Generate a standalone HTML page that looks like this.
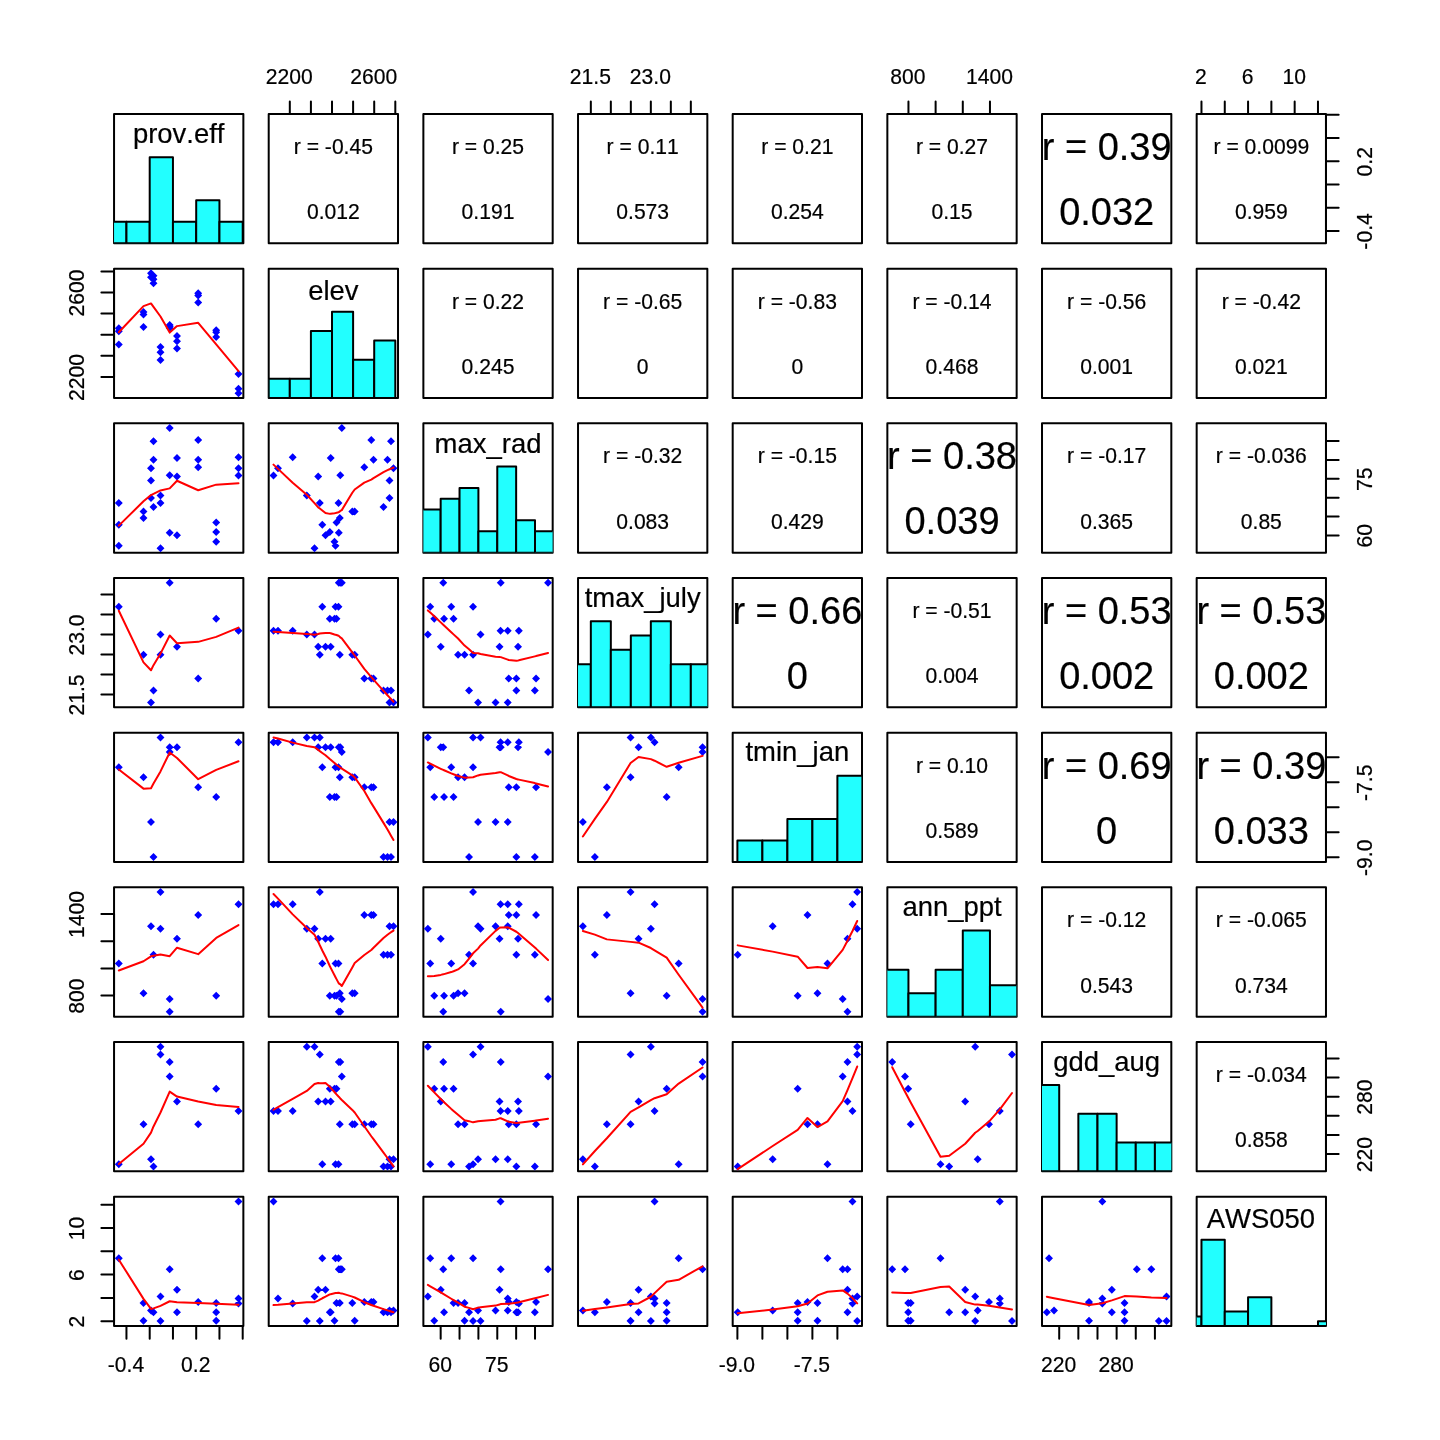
<!DOCTYPE html>
<html lang="en">
<head>
<meta charset="utf-8">
<title>Scatterplot matrix</title>
<style>html,body{margin:0;padding:0;background:#fff}svg{display:block}</style>
</head>
<body>
<svg width="1440" height="1440" viewBox="0 0 1440 1440" font-family="'Liberation Sans', sans-serif" fill="#000" style="font-kerning:none">
<style>text{stroke:#000;stroke-width:0.2px}</style>
<rect x="0" y="0" width="1440" height="1440" fill="#fff"/>
<defs>
<clipPath id="c0_0"><rect x="114.05" y="114.05" width="129.31" height="129.31"/></clipPath>
<clipPath id="c1_0"><rect x="114.05" y="268.71" width="129.31" height="129.31"/></clipPath>
<clipPath id="c1_1"><rect x="268.71" y="268.71" width="129.31" height="129.31"/></clipPath>
<clipPath id="c2_0"><rect x="114.05" y="423.37" width="129.31" height="129.31"/></clipPath>
<clipPath id="c2_1"><rect x="268.71" y="423.37" width="129.31" height="129.31"/></clipPath>
<clipPath id="c2_2"><rect x="423.37" y="423.37" width="129.31" height="129.31"/></clipPath>
<clipPath id="c3_0"><rect x="114.05" y="578.03" width="129.31" height="129.31"/></clipPath>
<clipPath id="c3_1"><rect x="268.71" y="578.03" width="129.31" height="129.31"/></clipPath>
<clipPath id="c3_2"><rect x="423.37" y="578.03" width="129.31" height="129.31"/></clipPath>
<clipPath id="c3_3"><rect x="578.03" y="578.03" width="129.31" height="129.31"/></clipPath>
<clipPath id="c4_0"><rect x="114.05" y="732.69" width="129.31" height="129.31"/></clipPath>
<clipPath id="c4_1"><rect x="268.71" y="732.69" width="129.31" height="129.31"/></clipPath>
<clipPath id="c4_2"><rect x="423.37" y="732.69" width="129.31" height="129.31"/></clipPath>
<clipPath id="c4_3"><rect x="578.03" y="732.69" width="129.31" height="129.31"/></clipPath>
<clipPath id="c4_4"><rect x="732.69" y="732.69" width="129.31" height="129.31"/></clipPath>
<clipPath id="c5_0"><rect x="114.05" y="887.35" width="129.31" height="129.31"/></clipPath>
<clipPath id="c5_1"><rect x="268.71" y="887.35" width="129.31" height="129.31"/></clipPath>
<clipPath id="c5_2"><rect x="423.37" y="887.35" width="129.31" height="129.31"/></clipPath>
<clipPath id="c5_3"><rect x="578.03" y="887.35" width="129.31" height="129.31"/></clipPath>
<clipPath id="c5_4"><rect x="732.69" y="887.35" width="129.31" height="129.31"/></clipPath>
<clipPath id="c5_5"><rect x="887.35" y="887.35" width="129.31" height="129.31"/></clipPath>
<clipPath id="c6_0"><rect x="114.05" y="1042.01" width="129.31" height="129.31"/></clipPath>
<clipPath id="c6_1"><rect x="268.71" y="1042.01" width="129.31" height="129.31"/></clipPath>
<clipPath id="c6_2"><rect x="423.37" y="1042.01" width="129.31" height="129.31"/></clipPath>
<clipPath id="c6_3"><rect x="578.03" y="1042.01" width="129.31" height="129.31"/></clipPath>
<clipPath id="c6_4"><rect x="732.69" y="1042.01" width="129.31" height="129.31"/></clipPath>
<clipPath id="c6_5"><rect x="887.35" y="1042.01" width="129.31" height="129.31"/></clipPath>
<clipPath id="c6_6"><rect x="1042.01" y="1042.01" width="129.31" height="129.31"/></clipPath>
<clipPath id="c7_0"><rect x="114.05" y="1196.67" width="129.31" height="129.31"/></clipPath>
<clipPath id="c7_1"><rect x="268.71" y="1196.67" width="129.31" height="129.31"/></clipPath>
<clipPath id="c7_2"><rect x="423.37" y="1196.67" width="129.31" height="129.31"/></clipPath>
<clipPath id="c7_3"><rect x="578.03" y="1196.67" width="129.31" height="129.31"/></clipPath>
<clipPath id="c7_4"><rect x="732.69" y="1196.67" width="129.31" height="129.31"/></clipPath>
<clipPath id="c7_5"><rect x="887.35" y="1196.67" width="129.31" height="129.31"/></clipPath>
<clipPath id="c7_6"><rect x="1042.01" y="1196.67" width="129.31" height="129.31"/></clipPath>
<clipPath id="c7_7"><rect x="1196.67" y="1196.67" width="129.31" height="129.31"/></clipPath>
</defs>
<g fill="none" stroke="#000" stroke-width="2.0" stroke-linejoin="round">
<rect x="114.05" y="114.05" width="129.31" height="129.31"/>
<rect x="268.71" y="114.05" width="129.31" height="129.31"/>
<rect x="423.37" y="114.05" width="129.31" height="129.31"/>
<rect x="578.03" y="114.05" width="129.31" height="129.31"/>
<rect x="732.69" y="114.05" width="129.31" height="129.31"/>
<rect x="887.35" y="114.05" width="129.31" height="129.31"/>
<rect x="1042.01" y="114.05" width="129.31" height="129.31"/>
<rect x="1196.67" y="114.05" width="129.31" height="129.31"/>
<rect x="114.05" y="268.71" width="129.31" height="129.31"/>
<rect x="268.71" y="268.71" width="129.31" height="129.31"/>
<rect x="423.37" y="268.71" width="129.31" height="129.31"/>
<rect x="578.03" y="268.71" width="129.31" height="129.31"/>
<rect x="732.69" y="268.71" width="129.31" height="129.31"/>
<rect x="887.35" y="268.71" width="129.31" height="129.31"/>
<rect x="1042.01" y="268.71" width="129.31" height="129.31"/>
<rect x="1196.67" y="268.71" width="129.31" height="129.31"/>
<rect x="114.05" y="423.37" width="129.31" height="129.31"/>
<rect x="268.71" y="423.37" width="129.31" height="129.31"/>
<rect x="423.37" y="423.37" width="129.31" height="129.31"/>
<rect x="578.03" y="423.37" width="129.31" height="129.31"/>
<rect x="732.69" y="423.37" width="129.31" height="129.31"/>
<rect x="887.35" y="423.37" width="129.31" height="129.31"/>
<rect x="1042.01" y="423.37" width="129.31" height="129.31"/>
<rect x="1196.67" y="423.37" width="129.31" height="129.31"/>
<rect x="114.05" y="578.03" width="129.31" height="129.31"/>
<rect x="268.71" y="578.03" width="129.31" height="129.31"/>
<rect x="423.37" y="578.03" width="129.31" height="129.31"/>
<rect x="578.03" y="578.03" width="129.31" height="129.31"/>
<rect x="732.69" y="578.03" width="129.31" height="129.31"/>
<rect x="887.35" y="578.03" width="129.31" height="129.31"/>
<rect x="1042.01" y="578.03" width="129.31" height="129.31"/>
<rect x="1196.67" y="578.03" width="129.31" height="129.31"/>
<rect x="114.05" y="732.69" width="129.31" height="129.31"/>
<rect x="268.71" y="732.69" width="129.31" height="129.31"/>
<rect x="423.37" y="732.69" width="129.31" height="129.31"/>
<rect x="578.03" y="732.69" width="129.31" height="129.31"/>
<rect x="732.69" y="732.69" width="129.31" height="129.31"/>
<rect x="887.35" y="732.69" width="129.31" height="129.31"/>
<rect x="1042.01" y="732.69" width="129.31" height="129.31"/>
<rect x="1196.67" y="732.69" width="129.31" height="129.31"/>
<rect x="114.05" y="887.35" width="129.31" height="129.31"/>
<rect x="268.71" y="887.35" width="129.31" height="129.31"/>
<rect x="423.37" y="887.35" width="129.31" height="129.31"/>
<rect x="578.03" y="887.35" width="129.31" height="129.31"/>
<rect x="732.69" y="887.35" width="129.31" height="129.31"/>
<rect x="887.35" y="887.35" width="129.31" height="129.31"/>
<rect x="1042.01" y="887.35" width="129.31" height="129.31"/>
<rect x="1196.67" y="887.35" width="129.31" height="129.31"/>
<rect x="114.05" y="1042.01" width="129.31" height="129.31"/>
<rect x="268.71" y="1042.01" width="129.31" height="129.31"/>
<rect x="423.37" y="1042.01" width="129.31" height="129.31"/>
<rect x="578.03" y="1042.01" width="129.31" height="129.31"/>
<rect x="732.69" y="1042.01" width="129.31" height="129.31"/>
<rect x="887.35" y="1042.01" width="129.31" height="129.31"/>
<rect x="1042.01" y="1042.01" width="129.31" height="129.31"/>
<rect x="1196.67" y="1042.01" width="129.31" height="129.31"/>
<rect x="114.05" y="1196.67" width="129.31" height="129.31"/>
<rect x="268.71" y="1196.67" width="129.31" height="129.31"/>
<rect x="423.37" y="1196.67" width="129.31" height="129.31"/>
<rect x="578.03" y="1196.67" width="129.31" height="129.31"/>
<rect x="732.69" y="1196.67" width="129.31" height="129.31"/>
<rect x="887.35" y="1196.67" width="129.31" height="129.31"/>
<rect x="1042.01" y="1196.67" width="129.31" height="129.31"/>
<rect x="1196.67" y="1196.67" width="129.31" height="129.31"/>
</g>
<g clip-path="url(#c1_0)">
<path d="M114.84 344.43l3.96 -3.96l3.96 3.96l-3.96 3.96zM114.84 331.23l3.96 -3.96l3.96 3.96l-3.96 3.96zM114.84 328.23l3.96 -3.96l3.96 3.96l-3.96 3.96zM139.54 326.93l3.96 -3.96l3.96 3.96l-3.96 3.96zM139.54 314.43l3.96 -3.96l3.96 3.96l-3.96 3.96zM139.54 312.03l3.96 -3.96l3.96 3.96l-3.96 3.96zM147.04 277.23l3.96 -3.96l3.96 3.96l-3.96 3.96zM147.04 277.23l3.96 -3.96l3.96 3.96l-3.96 3.96zM147.04 273.23l3.96 -3.96l3.96 3.96l-3.96 3.96zM149.54 283.23l3.96 -3.96l3.96 3.96l-3.96 3.96zM149.54 279.23l3.96 -3.96l3.96 3.96l-3.96 3.96zM149.54 275.73l3.96 -3.96l3.96 3.96l-3.96 3.96zM156.54 359.93l3.96 -3.96l3.96 3.96l-3.96 3.96zM156.54 352.23l3.96 -3.96l3.96 3.96l-3.96 3.96zM156.54 346.93l3.96 -3.96l3.96 3.96l-3.96 3.96zM165.74 327.93l3.96 -3.96l3.96 3.96l-3.96 3.96zM165.74 326.43l3.96 -3.96l3.96 3.96l-3.96 3.96zM165.74 324.93l3.96 -3.96l3.96 3.96l-3.96 3.96zM173.04 348.53l3.96 -3.96l3.96 3.96l-3.96 3.96zM173.04 341.23l3.96 -3.96l3.96 3.96l-3.96 3.96zM173.04 336.03l3.96 -3.96l3.96 3.96l-3.96 3.96zM194.24 302.43l3.96 -3.96l3.96 3.96l-3.96 3.96zM194.24 295.43l3.96 -3.96l3.96 3.96l-3.96 3.96zM194.24 293.23l3.96 -3.96l3.96 3.96l-3.96 3.96zM212.24 336.93l3.96 -3.96l3.96 3.96l-3.96 3.96zM212.24 332.23l3.96 -3.96l3.96 3.96l-3.96 3.96zM212.24 330.23l3.96 -3.96l3.96 3.96l-3.96 3.96zM234.54 393.23l3.96 -3.96l3.96 3.96l-3.96 3.96zM234.54 388.73l3.96 -3.96l3.96 3.96l-3.96 3.96zM234.54 374.03l3.96 -3.96l3.96 3.96l-3.96 3.96z" fill="#0000ff"/>
<polyline points="118.8,332.31 143.5,306.12 151,303.41 153.5,306.88 160.5,316.5 169.7,332.6 177,326.12 198.2,322.82 216.2,344.48 238.5,371.15" fill="none" stroke="#ff0000" stroke-width="2.0" stroke-linejoin="round" stroke-linecap="round"/>
</g>
<g clip-path="url(#c2_0)">
<path d="M114.84 524.8l3.96 -3.96l3.96 3.96l-3.96 3.96zM114.84 545.8l3.96 -3.96l3.96 3.96l-3.96 3.96zM114.84 503l3.96 -3.96l3.96 3.96l-3.96 3.96zM139.54 518l3.96 -3.96l3.96 3.96l-3.96 3.96zM139.54 511.5l3.96 -3.96l3.96 3.96l-3.96 3.96zM139.54 511.5l3.96 -3.96l3.96 3.96l-3.96 3.96zM147.04 480.5l3.96 -3.96l3.96 3.96l-3.96 3.96zM147.04 498l3.96 -3.96l3.96 3.96l-3.96 3.96zM147.04 468.3l3.96 -3.96l3.96 3.96l-3.96 3.96zM149.54 507l3.96 -3.96l3.96 3.96l-3.96 3.96zM149.54 459.7l3.96 -3.96l3.96 3.96l-3.96 3.96zM149.54 441.2l3.96 -3.96l3.96 3.96l-3.96 3.96zM156.54 495.5l3.96 -3.96l3.96 3.96l-3.96 3.96zM156.54 548.2l3.96 -3.96l3.96 3.96l-3.96 3.96zM156.54 503l3.96 -3.96l3.96 3.96l-3.96 3.96zM165.74 532.8l3.96 -3.96l3.96 3.96l-3.96 3.96zM165.74 475.3l3.96 -3.96l3.96 3.96l-3.96 3.96zM165.74 428l3.96 -3.96l3.96 3.96l-3.96 3.96zM173.04 476.5l3.96 -3.96l3.96 3.96l-3.96 3.96zM173.04 535.3l3.96 -3.96l3.96 3.96l-3.96 3.96zM173.04 458l3.96 -3.96l3.96 3.96l-3.96 3.96zM194.24 467.3l3.96 -3.96l3.96 3.96l-3.96 3.96zM194.24 440l3.96 -3.96l3.96 3.96l-3.96 3.96zM194.24 459.7l3.96 -3.96l3.96 3.96l-3.96 3.96zM212.24 532l3.96 -3.96l3.96 3.96l-3.96 3.96zM212.24 541.8l3.96 -3.96l3.96 3.96l-3.96 3.96zM212.24 522.5l3.96 -3.96l3.96 3.96l-3.96 3.96zM234.54 475.5l3.96 -3.96l3.96 3.96l-3.96 3.96zM234.54 468.3l3.96 -3.96l3.96 3.96l-3.96 3.96zM234.54 457.2l3.96 -3.96l3.96 3.96l-3.96 3.96z" fill="#0000ff"/>
<polyline points="118.8,525.61 143.5,501.3 151,495.08 153.5,493.82 160.5,490.41 169.7,488.37 177,480.73 198.2,490.27 216.2,484.63 238.5,483.26" fill="none" stroke="#ff0000" stroke-width="2.0" stroke-linejoin="round" stroke-linecap="round"/>
</g>
<g clip-path="url(#c2_1)">
<path d="M318.34 524.8l3.96 -3.96l3.96 3.96l-3.96 3.96zM331.54 545.8l3.96 -3.96l3.96 3.96l-3.96 3.96zM334.54 503l3.96 -3.96l3.96 3.96l-3.96 3.96zM335.84 518l3.96 -3.96l3.96 3.96l-3.96 3.96zM348.34 511.5l3.96 -3.96l3.96 3.96l-3.96 3.96zM350.74 511.5l3.96 -3.96l3.96 3.96l-3.96 3.96zM385.54 480.5l3.96 -3.96l3.96 3.96l-3.96 3.96zM385.54 498l3.96 -3.96l3.96 3.96l-3.96 3.96zM389.54 468.3l3.96 -3.96l3.96 3.96l-3.96 3.96zM379.54 507l3.96 -3.96l3.96 3.96l-3.96 3.96zM383.54 459.7l3.96 -3.96l3.96 3.96l-3.96 3.96zM387.04 441.2l3.96 -3.96l3.96 3.96l-3.96 3.96zM302.84 495.5l3.96 -3.96l3.96 3.96l-3.96 3.96zM310.54 548.2l3.96 -3.96l3.96 3.96l-3.96 3.96zM315.84 503l3.96 -3.96l3.96 3.96l-3.96 3.96zM334.84 532.8l3.96 -3.96l3.96 3.96l-3.96 3.96zM336.34 475.3l3.96 -3.96l3.96 3.96l-3.96 3.96zM337.84 428l3.96 -3.96l3.96 3.96l-3.96 3.96zM314.24 476.5l3.96 -3.96l3.96 3.96l-3.96 3.96zM321.54 535.3l3.96 -3.96l3.96 3.96l-3.96 3.96zM326.74 458l3.96 -3.96l3.96 3.96l-3.96 3.96zM360.34 467.3l3.96 -3.96l3.96 3.96l-3.96 3.96zM367.34 440l3.96 -3.96l3.96 3.96l-3.96 3.96zM369.54 459.7l3.96 -3.96l3.96 3.96l-3.96 3.96zM325.84 532l3.96 -3.96l3.96 3.96l-3.96 3.96zM330.54 541.8l3.96 -3.96l3.96 3.96l-3.96 3.96zM332.54 522.5l3.96 -3.96l3.96 3.96l-3.96 3.96zM269.54 475.5l3.96 -3.96l3.96 3.96l-3.96 3.96zM274.04 468.3l3.96 -3.96l3.96 3.96l-3.96 3.96zM288.74 457.2l3.96 -3.96l3.96 3.96l-3.96 3.96z" fill="#0000ff"/>
<polyline points="273.5,464.64 278,468.88 292.7,482.71 306.8,494.72 314.5,503.07 318.2,507.32 319.8,508.48 322.3,510.42 325.5,513.03 329.8,513.86 330.7,513.72 334.5,513.17 335.5,513 336.5,512.78 338.5,512.19 338.8,512.09 339.8,511.37 340.3,510.96 341.8,510.12 352.3,492.78 354.7,489.47 364.3,482.59 371.3,479.56 373.5,478.15 383.5,472.14 387.5,470.16 389.5,469.26 391,468.63 393.5,467.63" fill="none" stroke="#ff0000" stroke-width="2.0" stroke-linejoin="round" stroke-linecap="round"/>
</g>
<g clip-path="url(#c3_0)">
<path d="M114.84 606.7l3.96 -3.96l3.96 3.96l-3.96 3.96zM114.84 606.7l3.96 -3.96l3.96 3.96l-3.96 3.96zM114.84 606.7l3.96 -3.96l3.96 3.96l-3.96 3.96zM139.54 654.8l3.96 -3.96l3.96 3.96l-3.96 3.96zM139.54 654.8l3.96 -3.96l3.96 3.96l-3.96 3.96zM139.54 654.8l3.96 -3.96l3.96 3.96l-3.96 3.96zM147.04 702.5l3.96 -3.96l3.96 3.96l-3.96 3.96zM147.04 702.5l3.96 -3.96l3.96 3.96l-3.96 3.96zM147.04 702.5l3.96 -3.96l3.96 3.96l-3.96 3.96zM149.54 690.5l3.96 -3.96l3.96 3.96l-3.96 3.96zM149.54 690.5l3.96 -3.96l3.96 3.96l-3.96 3.96zM149.54 690.5l3.96 -3.96l3.96 3.96l-3.96 3.96zM156.54 634.5l3.96 -3.96l3.96 3.96l-3.96 3.96zM156.54 634.5l3.96 -3.96l3.96 3.96l-3.96 3.96zM156.54 654.8l3.96 -3.96l3.96 3.96l-3.96 3.96zM165.74 582.8l3.96 -3.96l3.96 3.96l-3.96 3.96zM165.74 582.8l3.96 -3.96l3.96 3.96l-3.96 3.96zM165.74 582.8l3.96 -3.96l3.96 3.96l-3.96 3.96zM173.04 646.8l3.96 -3.96l3.96 3.96l-3.96 3.96zM173.04 646.8l3.96 -3.96l3.96 3.96l-3.96 3.96zM173.04 646.8l3.96 -3.96l3.96 3.96l-3.96 3.96zM194.24 678.5l3.96 -3.96l3.96 3.96l-3.96 3.96zM194.24 678.5l3.96 -3.96l3.96 3.96l-3.96 3.96zM194.24 678.5l3.96 -3.96l3.96 3.96l-3.96 3.96zM212.24 618.7l3.96 -3.96l3.96 3.96l-3.96 3.96zM212.24 618.7l3.96 -3.96l3.96 3.96l-3.96 3.96zM212.24 618.7l3.96 -3.96l3.96 3.96l-3.96 3.96zM234.54 630.8l3.96 -3.96l3.96 3.96l-3.96 3.96zM234.54 630.8l3.96 -3.96l3.96 3.96l-3.96 3.96zM234.54 630.8l3.96 -3.96l3.96 3.96l-3.96 3.96z" fill="#0000ff"/>
<polyline points="118.8,610.73 143.5,662.32 151,670.24 153.5,665.16 160.5,653.6 169.7,635.55 177,643.25 198.2,641.85 216.2,636.89 238.5,627.66" fill="none" stroke="#ff0000" stroke-width="2.0" stroke-linejoin="round" stroke-linecap="round"/>
</g>
<g clip-path="url(#c3_1)">
<path d="M318.34 606.7l3.96 -3.96l3.96 3.96l-3.96 3.96zM331.54 606.7l3.96 -3.96l3.96 3.96l-3.96 3.96zM334.54 606.7l3.96 -3.96l3.96 3.96l-3.96 3.96zM335.84 654.8l3.96 -3.96l3.96 3.96l-3.96 3.96zM348.34 654.8l3.96 -3.96l3.96 3.96l-3.96 3.96zM350.74 654.8l3.96 -3.96l3.96 3.96l-3.96 3.96zM385.54 702.5l3.96 -3.96l3.96 3.96l-3.96 3.96zM385.54 702.5l3.96 -3.96l3.96 3.96l-3.96 3.96zM389.54 702.5l3.96 -3.96l3.96 3.96l-3.96 3.96zM379.54 690.5l3.96 -3.96l3.96 3.96l-3.96 3.96zM383.54 690.5l3.96 -3.96l3.96 3.96l-3.96 3.96zM387.04 690.5l3.96 -3.96l3.96 3.96l-3.96 3.96zM302.84 634.5l3.96 -3.96l3.96 3.96l-3.96 3.96zM310.54 634.5l3.96 -3.96l3.96 3.96l-3.96 3.96zM315.84 654.8l3.96 -3.96l3.96 3.96l-3.96 3.96zM334.84 582.8l3.96 -3.96l3.96 3.96l-3.96 3.96zM336.34 582.8l3.96 -3.96l3.96 3.96l-3.96 3.96zM337.84 582.8l3.96 -3.96l3.96 3.96l-3.96 3.96zM314.24 646.8l3.96 -3.96l3.96 3.96l-3.96 3.96zM321.54 646.8l3.96 -3.96l3.96 3.96l-3.96 3.96zM326.74 646.8l3.96 -3.96l3.96 3.96l-3.96 3.96zM360.34 678.5l3.96 -3.96l3.96 3.96l-3.96 3.96zM367.34 678.5l3.96 -3.96l3.96 3.96l-3.96 3.96zM369.54 678.5l3.96 -3.96l3.96 3.96l-3.96 3.96zM325.84 618.7l3.96 -3.96l3.96 3.96l-3.96 3.96zM330.54 618.7l3.96 -3.96l3.96 3.96l-3.96 3.96zM332.54 618.7l3.96 -3.96l3.96 3.96l-3.96 3.96zM269.54 630.8l3.96 -3.96l3.96 3.96l-3.96 3.96zM274.04 630.8l3.96 -3.96l3.96 3.96l-3.96 3.96zM288.74 630.8l3.96 -3.96l3.96 3.96l-3.96 3.96z" fill="#0000ff"/>
<polyline points="273.5,631.69 278,632.04 292.7,632.96 306.8,633.88 314.5,634.7 318.2,633.98 319.8,633.5 322.3,633.16 325.5,632.88 329.8,632.89 330.7,633.29 334.5,634.51 335.5,634.76 336.5,635.04 338.5,635.76 338.8,635.89 339.8,636.92 340.3,637.46 341.8,638.43 352.3,652.29 354.7,655.51 364.3,668.94 371.3,677.04 373.5,679.58 383.5,690.82 387.5,695.21 389.5,697.38 391,699.01 393.5,701.71" fill="none" stroke="#ff0000" stroke-width="2.0" stroke-linejoin="round" stroke-linecap="round"/>
</g>
<g clip-path="url(#c3_2)">
<path d="M447.29 606.7l3.96 -3.96l3.96 3.96l-3.96 3.96zM426.29 606.7l3.96 -3.96l3.96 3.96l-3.96 3.96zM469.09 606.7l3.96 -3.96l3.96 3.96l-3.96 3.96zM454.09 654.8l3.96 -3.96l3.96 3.96l-3.96 3.96zM460.59 654.8l3.96 -3.96l3.96 3.96l-3.96 3.96zM460.59 654.8l3.96 -3.96l3.96 3.96l-3.96 3.96zM491.59 702.5l3.96 -3.96l3.96 3.96l-3.96 3.96zM474.09 702.5l3.96 -3.96l3.96 3.96l-3.96 3.96zM503.79 702.5l3.96 -3.96l3.96 3.96l-3.96 3.96zM465.09 690.5l3.96 -3.96l3.96 3.96l-3.96 3.96zM512.39 690.5l3.96 -3.96l3.96 3.96l-3.96 3.96zM530.89 690.5l3.96 -3.96l3.96 3.96l-3.96 3.96zM476.59 634.5l3.96 -3.96l3.96 3.96l-3.96 3.96zM423.89 634.5l3.96 -3.96l3.96 3.96l-3.96 3.96zM469.09 654.8l3.96 -3.96l3.96 3.96l-3.96 3.96zM439.29 582.8l3.96 -3.96l3.96 3.96l-3.96 3.96zM496.79 582.8l3.96 -3.96l3.96 3.96l-3.96 3.96zM544.09 582.8l3.96 -3.96l3.96 3.96l-3.96 3.96zM495.59 646.8l3.96 -3.96l3.96 3.96l-3.96 3.96zM436.79 646.8l3.96 -3.96l3.96 3.96l-3.96 3.96zM514.09 646.8l3.96 -3.96l3.96 3.96l-3.96 3.96zM504.79 678.5l3.96 -3.96l3.96 3.96l-3.96 3.96zM532.09 678.5l3.96 -3.96l3.96 3.96l-3.96 3.96zM512.39 678.5l3.96 -3.96l3.96 3.96l-3.96 3.96zM440.09 618.7l3.96 -3.96l3.96 3.96l-3.96 3.96zM430.29 618.7l3.96 -3.96l3.96 3.96l-3.96 3.96zM449.59 618.7l3.96 -3.96l3.96 3.96l-3.96 3.96zM496.59 630.8l3.96 -3.96l3.96 3.96l-3.96 3.96zM503.79 630.8l3.96 -3.96l3.96 3.96l-3.96 3.96zM514.89 630.8l3.96 -3.96l3.96 3.96l-3.96 3.96z" fill="#0000ff"/>
<polyline points="427.85,610.43 430.25,612.58 434.25,616.25 440.75,622.36 443.25,624.74 444.05,625.5 451.25,632.25 453.55,634.38 458.05,638.54 464.55,645.6 469.05,649.28 473.05,652.94 478.05,653.21 480.55,654.02 495.55,656.84 499.55,657 500.55,657.12 500.75,657.14 507.75,659.58 508.75,660 516.35,660.67 518.05,660.41 518.85,660.26 534.85,656.35 536.05,656.07 548.05,652.95" fill="none" stroke="#ff0000" stroke-width="2.0" stroke-linejoin="round" stroke-linecap="round"/>
</g>
<g clip-path="url(#c4_0)">
<path d="M114.84 767.2l3.96 -3.96l3.96 3.96l-3.96 3.96zM114.84 767.2l3.96 -3.96l3.96 3.96l-3.96 3.96zM114.84 767.2l3.96 -3.96l3.96 3.96l-3.96 3.96zM139.54 777.2l3.96 -3.96l3.96 3.96l-3.96 3.96zM139.54 777.2l3.96 -3.96l3.96 3.96l-3.96 3.96zM139.54 777.2l3.96 -3.96l3.96 3.96l-3.96 3.96zM147.04 822l3.96 -3.96l3.96 3.96l-3.96 3.96zM147.04 822l3.96 -3.96l3.96 3.96l-3.96 3.96zM147.04 822l3.96 -3.96l3.96 3.96l-3.96 3.96zM149.54 857l3.96 -3.96l3.96 3.96l-3.96 3.96zM149.54 857l3.96 -3.96l3.96 3.96l-3.96 3.96zM149.54 857l3.96 -3.96l3.96 3.96l-3.96 3.96zM156.54 737.5l3.96 -3.96l3.96 3.96l-3.96 3.96zM156.54 737.5l3.96 -3.96l3.96 3.96l-3.96 3.96zM156.54 737.5l3.96 -3.96l3.96 3.96l-3.96 3.96zM165.74 747.2l3.96 -3.96l3.96 3.96l-3.96 3.96zM165.74 747.2l3.96 -3.96l3.96 3.96l-3.96 3.96zM165.74 752l3.96 -3.96l3.96 3.96l-3.96 3.96zM173.04 747.2l3.96 -3.96l3.96 3.96l-3.96 3.96zM173.04 747.2l3.96 -3.96l3.96 3.96l-3.96 3.96zM173.04 747.2l3.96 -3.96l3.96 3.96l-3.96 3.96zM194.24 787.2l3.96 -3.96l3.96 3.96l-3.96 3.96zM194.24 787.2l3.96 -3.96l3.96 3.96l-3.96 3.96zM194.24 787.2l3.96 -3.96l3.96 3.96l-3.96 3.96zM212.24 797l3.96 -3.96l3.96 3.96l-3.96 3.96zM212.24 797l3.96 -3.96l3.96 3.96l-3.96 3.96zM212.24 797l3.96 -3.96l3.96 3.96l-3.96 3.96zM234.54 742.2l3.96 -3.96l3.96 3.96l-3.96 3.96zM234.54 742.2l3.96 -3.96l3.96 3.96l-3.96 3.96zM234.54 742.2l3.96 -3.96l3.96 3.96l-3.96 3.96z" fill="#0000ff"/>
<polyline points="118.8,769.52 143.5,788.64 151,788.25 153.5,783.53 160.5,771.39 169.7,752.44 177,758 198.2,779.17 216.2,769.85 238.5,761.24" fill="none" stroke="#ff0000" stroke-width="2.0" stroke-linejoin="round" stroke-linecap="round"/>
</g>
<g clip-path="url(#c4_1)">
<path d="M318.34 767.2l3.96 -3.96l3.96 3.96l-3.96 3.96zM331.54 767.2l3.96 -3.96l3.96 3.96l-3.96 3.96zM334.54 767.2l3.96 -3.96l3.96 3.96l-3.96 3.96zM335.84 777.2l3.96 -3.96l3.96 3.96l-3.96 3.96zM348.34 777.2l3.96 -3.96l3.96 3.96l-3.96 3.96zM350.74 777.2l3.96 -3.96l3.96 3.96l-3.96 3.96zM385.54 822l3.96 -3.96l3.96 3.96l-3.96 3.96zM385.54 822l3.96 -3.96l3.96 3.96l-3.96 3.96zM389.54 822l3.96 -3.96l3.96 3.96l-3.96 3.96zM379.54 857l3.96 -3.96l3.96 3.96l-3.96 3.96zM383.54 857l3.96 -3.96l3.96 3.96l-3.96 3.96zM387.04 857l3.96 -3.96l3.96 3.96l-3.96 3.96zM302.84 737.5l3.96 -3.96l3.96 3.96l-3.96 3.96zM310.54 737.5l3.96 -3.96l3.96 3.96l-3.96 3.96zM315.84 737.5l3.96 -3.96l3.96 3.96l-3.96 3.96zM334.84 747.2l3.96 -3.96l3.96 3.96l-3.96 3.96zM336.34 747.2l3.96 -3.96l3.96 3.96l-3.96 3.96zM337.84 752l3.96 -3.96l3.96 3.96l-3.96 3.96zM314.24 747.2l3.96 -3.96l3.96 3.96l-3.96 3.96zM321.54 747.2l3.96 -3.96l3.96 3.96l-3.96 3.96zM326.74 747.2l3.96 -3.96l3.96 3.96l-3.96 3.96zM360.34 787.2l3.96 -3.96l3.96 3.96l-3.96 3.96zM367.34 787.2l3.96 -3.96l3.96 3.96l-3.96 3.96zM369.54 787.2l3.96 -3.96l3.96 3.96l-3.96 3.96zM325.84 797l3.96 -3.96l3.96 3.96l-3.96 3.96zM330.54 797l3.96 -3.96l3.96 3.96l-3.96 3.96zM332.54 797l3.96 -3.96l3.96 3.96l-3.96 3.96zM269.54 742.2l3.96 -3.96l3.96 3.96l-3.96 3.96zM274.04 742.2l3.96 -3.96l3.96 3.96l-3.96 3.96zM288.74 742.2l3.96 -3.96l3.96 3.96l-3.96 3.96z" fill="#0000ff"/>
<polyline points="273.5,737.46 278,738.55 292.7,742.63 306.8,745.92 314.5,747.3 318.2,749.85 319.8,751.17 322.3,753.01 325.5,755.29 329.8,758.97 330.7,759.7 334.5,762.95 335.5,763.82 336.5,764.67 338.5,766.3 338.8,766.54 339.8,767.27 340.3,767.63 341.8,768.66 352.3,775.31 354.7,777.45 364.3,790.98 371.3,803.15 373.5,806.65 383.5,822.85 387.5,829.61 389.5,833.05 391,835.64 393.5,839.99" fill="none" stroke="#ff0000" stroke-width="2.0" stroke-linejoin="round" stroke-linecap="round"/>
</g>
<g clip-path="url(#c4_2)">
<path d="M447.29 767.2l3.96 -3.96l3.96 3.96l-3.96 3.96zM426.29 767.2l3.96 -3.96l3.96 3.96l-3.96 3.96zM469.09 767.2l3.96 -3.96l3.96 3.96l-3.96 3.96zM454.09 777.2l3.96 -3.96l3.96 3.96l-3.96 3.96zM460.59 777.2l3.96 -3.96l3.96 3.96l-3.96 3.96zM460.59 777.2l3.96 -3.96l3.96 3.96l-3.96 3.96zM491.59 822l3.96 -3.96l3.96 3.96l-3.96 3.96zM474.09 822l3.96 -3.96l3.96 3.96l-3.96 3.96zM503.79 822l3.96 -3.96l3.96 3.96l-3.96 3.96zM465.09 857l3.96 -3.96l3.96 3.96l-3.96 3.96zM512.39 857l3.96 -3.96l3.96 3.96l-3.96 3.96zM530.89 857l3.96 -3.96l3.96 3.96l-3.96 3.96zM476.59 737.5l3.96 -3.96l3.96 3.96l-3.96 3.96zM423.89 737.5l3.96 -3.96l3.96 3.96l-3.96 3.96zM469.09 737.5l3.96 -3.96l3.96 3.96l-3.96 3.96zM439.29 747.2l3.96 -3.96l3.96 3.96l-3.96 3.96zM496.79 747.2l3.96 -3.96l3.96 3.96l-3.96 3.96zM544.09 752l3.96 -3.96l3.96 3.96l-3.96 3.96zM495.59 747.2l3.96 -3.96l3.96 3.96l-3.96 3.96zM436.79 747.2l3.96 -3.96l3.96 3.96l-3.96 3.96zM514.09 747.2l3.96 -3.96l3.96 3.96l-3.96 3.96zM504.79 787.2l3.96 -3.96l3.96 3.96l-3.96 3.96zM532.09 787.2l3.96 -3.96l3.96 3.96l-3.96 3.96zM512.39 787.2l3.96 -3.96l3.96 3.96l-3.96 3.96zM440.09 797l3.96 -3.96l3.96 3.96l-3.96 3.96zM430.29 797l3.96 -3.96l3.96 3.96l-3.96 3.96zM449.59 797l3.96 -3.96l3.96 3.96l-3.96 3.96zM496.59 742.2l3.96 -3.96l3.96 3.96l-3.96 3.96zM503.79 742.2l3.96 -3.96l3.96 3.96l-3.96 3.96zM514.89 742.2l3.96 -3.96l3.96 3.96l-3.96 3.96z" fill="#0000ff"/>
<polyline points="427.85,762.46 430.25,763.68 434.25,765.67 440.75,768.78 443.25,769.92 444.05,770.28 451.25,773.37 453.55,774.28 458.05,775.94 464.55,777.65 469.05,777.48 473.05,777.3 478.05,775.43 480.55,774.71 495.55,773.03 499.55,772.2 500.55,772.18 500.75,772.17 507.75,775.32 508.75,775.96 516.35,779.03 518.05,779.44 518.85,779.62 534.85,783.1 536.05,783.41 548.05,786.52" fill="none" stroke="#ff0000" stroke-width="2.0" stroke-linejoin="round" stroke-linecap="round"/>
</g>
<g clip-path="url(#c4_3)">
<path d="M674.71 767.2l3.96 -3.96l3.96 3.96l-3.96 3.96zM674.71 767.2l3.96 -3.96l3.96 3.96l-3.96 3.96zM674.71 767.2l3.96 -3.96l3.96 3.96l-3.96 3.96zM626.61 777.2l3.96 -3.96l3.96 3.96l-3.96 3.96zM626.61 777.2l3.96 -3.96l3.96 3.96l-3.96 3.96zM626.61 777.2l3.96 -3.96l3.96 3.96l-3.96 3.96zM578.91 822l3.96 -3.96l3.96 3.96l-3.96 3.96zM578.91 822l3.96 -3.96l3.96 3.96l-3.96 3.96zM578.91 822l3.96 -3.96l3.96 3.96l-3.96 3.96zM590.91 857l3.96 -3.96l3.96 3.96l-3.96 3.96zM590.91 857l3.96 -3.96l3.96 3.96l-3.96 3.96zM590.91 857l3.96 -3.96l3.96 3.96l-3.96 3.96zM646.91 737.5l3.96 -3.96l3.96 3.96l-3.96 3.96zM646.91 737.5l3.96 -3.96l3.96 3.96l-3.96 3.96zM626.61 737.5l3.96 -3.96l3.96 3.96l-3.96 3.96zM698.61 747.2l3.96 -3.96l3.96 3.96l-3.96 3.96zM698.61 747.2l3.96 -3.96l3.96 3.96l-3.96 3.96zM698.61 752l3.96 -3.96l3.96 3.96l-3.96 3.96zM634.61 747.2l3.96 -3.96l3.96 3.96l-3.96 3.96zM634.61 747.2l3.96 -3.96l3.96 3.96l-3.96 3.96zM634.61 747.2l3.96 -3.96l3.96 3.96l-3.96 3.96zM602.91 787.2l3.96 -3.96l3.96 3.96l-3.96 3.96zM602.91 787.2l3.96 -3.96l3.96 3.96l-3.96 3.96zM602.91 787.2l3.96 -3.96l3.96 3.96l-3.96 3.96zM662.71 797l3.96 -3.96l3.96 3.96l-3.96 3.96zM662.71 797l3.96 -3.96l3.96 3.96l-3.96 3.96zM662.71 797l3.96 -3.96l3.96 3.96l-3.96 3.96zM650.61 742.2l3.96 -3.96l3.96 3.96l-3.96 3.96zM650.61 742.2l3.96 -3.96l3.96 3.96l-3.96 3.96zM650.61 742.2l3.96 -3.96l3.96 3.96l-3.96 3.96z" fill="#0000ff"/>
<polyline points="582.87,836.53 594.87,818.89 606.87,801.95 630.57,763.06 638.57,756.92 650.87,759.11 654.57,760.73 666.67,766.78 678.67,762.78 702.57,755.88" fill="none" stroke="#ff0000" stroke-width="2.0" stroke-linejoin="round" stroke-linecap="round"/>
</g>
<g clip-path="url(#c5_0)">
<path d="M114.84 963.5l3.96 -3.96l3.96 3.96l-3.96 3.96zM114.84 963.5l3.96 -3.96l3.96 3.96l-3.96 3.96zM114.84 963.5l3.96 -3.96l3.96 3.96l-3.96 3.96zM139.54 993.3l3.96 -3.96l3.96 3.96l-3.96 3.96zM139.54 993.3l3.96 -3.96l3.96 3.96l-3.96 3.96zM139.54 993.3l3.96 -3.96l3.96 3.96l-3.96 3.96zM147.04 926.3l3.96 -3.96l3.96 3.96l-3.96 3.96zM147.04 926.3l3.96 -3.96l3.96 3.96l-3.96 3.96zM147.04 926.3l3.96 -3.96l3.96 3.96l-3.96 3.96zM149.54 954.8l3.96 -3.96l3.96 3.96l-3.96 3.96zM149.54 954.8l3.96 -3.96l3.96 3.96l-3.96 3.96zM149.54 954.8l3.96 -3.96l3.96 3.96l-3.96 3.96zM156.54 928.8l3.96 -3.96l3.96 3.96l-3.96 3.96zM156.54 928.8l3.96 -3.96l3.96 3.96l-3.96 3.96zM156.54 892l3.96 -3.96l3.96 3.96l-3.96 3.96zM165.74 1011.8l3.96 -3.96l3.96 3.96l-3.96 3.96zM165.74 1011.8l3.96 -3.96l3.96 3.96l-3.96 3.96zM165.74 999l3.96 -3.96l3.96 3.96l-3.96 3.96zM173.04 938.8l3.96 -3.96l3.96 3.96l-3.96 3.96zM173.04 938.8l3.96 -3.96l3.96 3.96l-3.96 3.96zM173.04 938.8l3.96 -3.96l3.96 3.96l-3.96 3.96zM194.24 915l3.96 -3.96l3.96 3.96l-3.96 3.96zM194.24 915l3.96 -3.96l3.96 3.96l-3.96 3.96zM194.24 915l3.96 -3.96l3.96 3.96l-3.96 3.96zM212.24 995.8l3.96 -3.96l3.96 3.96l-3.96 3.96zM212.24 995.8l3.96 -3.96l3.96 3.96l-3.96 3.96zM212.24 995.8l3.96 -3.96l3.96 3.96l-3.96 3.96zM234.54 904.2l3.96 -3.96l3.96 3.96l-3.96 3.96zM234.54 904.2l3.96 -3.96l3.96 3.96l-3.96 3.96zM234.54 904.2l3.96 -3.96l3.96 3.96l-3.96 3.96z" fill="#0000ff"/>
<polyline points="118.8,970.5 143.5,961.23 151,956.29 153.5,955.73 160.5,954.45 169.7,956.16 177,947.7 198.2,954.15 216.2,937.98 238.5,925.08" fill="none" stroke="#ff0000" stroke-width="2.0" stroke-linejoin="round" stroke-linecap="round"/>
</g>
<g clip-path="url(#c5_1)">
<path d="M318.34 963.5l3.96 -3.96l3.96 3.96l-3.96 3.96zM331.54 963.5l3.96 -3.96l3.96 3.96l-3.96 3.96zM334.54 963.5l3.96 -3.96l3.96 3.96l-3.96 3.96zM335.84 993.3l3.96 -3.96l3.96 3.96l-3.96 3.96zM348.34 993.3l3.96 -3.96l3.96 3.96l-3.96 3.96zM350.74 993.3l3.96 -3.96l3.96 3.96l-3.96 3.96zM385.54 926.3l3.96 -3.96l3.96 3.96l-3.96 3.96zM385.54 926.3l3.96 -3.96l3.96 3.96l-3.96 3.96zM389.54 926.3l3.96 -3.96l3.96 3.96l-3.96 3.96zM379.54 954.8l3.96 -3.96l3.96 3.96l-3.96 3.96zM383.54 954.8l3.96 -3.96l3.96 3.96l-3.96 3.96zM387.04 954.8l3.96 -3.96l3.96 3.96l-3.96 3.96zM302.84 928.8l3.96 -3.96l3.96 3.96l-3.96 3.96zM310.54 928.8l3.96 -3.96l3.96 3.96l-3.96 3.96zM315.84 892l3.96 -3.96l3.96 3.96l-3.96 3.96zM334.84 1011.8l3.96 -3.96l3.96 3.96l-3.96 3.96zM336.34 1011.8l3.96 -3.96l3.96 3.96l-3.96 3.96zM337.84 999l3.96 -3.96l3.96 3.96l-3.96 3.96zM314.24 938.8l3.96 -3.96l3.96 3.96l-3.96 3.96zM321.54 938.8l3.96 -3.96l3.96 3.96l-3.96 3.96zM326.74 938.8l3.96 -3.96l3.96 3.96l-3.96 3.96zM360.34 915l3.96 -3.96l3.96 3.96l-3.96 3.96zM367.34 915l3.96 -3.96l3.96 3.96l-3.96 3.96zM369.54 915l3.96 -3.96l3.96 3.96l-3.96 3.96zM325.84 995.8l3.96 -3.96l3.96 3.96l-3.96 3.96zM330.54 995.8l3.96 -3.96l3.96 3.96l-3.96 3.96zM332.54 995.8l3.96 -3.96l3.96 3.96l-3.96 3.96zM269.54 904.2l3.96 -3.96l3.96 3.96l-3.96 3.96zM274.04 904.2l3.96 -3.96l3.96 3.96l-3.96 3.96zM288.74 904.2l3.96 -3.96l3.96 3.96l-3.96 3.96z" fill="#0000ff"/>
<polyline points="273.5,894.06 278,898.65 292.7,914.36 306.8,927.92 314.5,934.75 318.2,941.72 319.8,945.28 322.3,950.45 325.5,956.68 329.8,966 330.7,967.83 334.5,975.21 335.5,977.19 336.5,979.14 338.5,982.86 338.8,983.38 339.8,984.05 340.3,984.26 341.8,986.01 352.3,967.4 354.7,963.01 364.3,954.97 371.3,950.02 373.5,947.74 383.5,937.99 387.5,934.73 389.5,933.25 391,932.2 393.5,930.55" fill="none" stroke="#ff0000" stroke-width="2.0" stroke-linejoin="round" stroke-linecap="round"/>
</g>
<g clip-path="url(#c5_2)">
<path d="M447.29 963.5l3.96 -3.96l3.96 3.96l-3.96 3.96zM426.29 963.5l3.96 -3.96l3.96 3.96l-3.96 3.96zM469.09 963.5l3.96 -3.96l3.96 3.96l-3.96 3.96zM454.09 993.3l3.96 -3.96l3.96 3.96l-3.96 3.96zM460.59 993.3l3.96 -3.96l3.96 3.96l-3.96 3.96zM460.59 993.3l3.96 -3.96l3.96 3.96l-3.96 3.96zM491.59 926.3l3.96 -3.96l3.96 3.96l-3.96 3.96zM474.09 926.3l3.96 -3.96l3.96 3.96l-3.96 3.96zM503.79 926.3l3.96 -3.96l3.96 3.96l-3.96 3.96zM465.09 954.8l3.96 -3.96l3.96 3.96l-3.96 3.96zM512.39 954.8l3.96 -3.96l3.96 3.96l-3.96 3.96zM530.89 954.8l3.96 -3.96l3.96 3.96l-3.96 3.96zM476.59 928.8l3.96 -3.96l3.96 3.96l-3.96 3.96zM423.89 928.8l3.96 -3.96l3.96 3.96l-3.96 3.96zM469.09 892l3.96 -3.96l3.96 3.96l-3.96 3.96zM439.29 1011.8l3.96 -3.96l3.96 3.96l-3.96 3.96zM496.79 1011.8l3.96 -3.96l3.96 3.96l-3.96 3.96zM544.09 999l3.96 -3.96l3.96 3.96l-3.96 3.96zM495.59 938.8l3.96 -3.96l3.96 3.96l-3.96 3.96zM436.79 938.8l3.96 -3.96l3.96 3.96l-3.96 3.96zM514.09 938.8l3.96 -3.96l3.96 3.96l-3.96 3.96zM504.79 915l3.96 -3.96l3.96 3.96l-3.96 3.96zM532.09 915l3.96 -3.96l3.96 3.96l-3.96 3.96zM512.39 915l3.96 -3.96l3.96 3.96l-3.96 3.96zM440.09 995.8l3.96 -3.96l3.96 3.96l-3.96 3.96zM430.29 995.8l3.96 -3.96l3.96 3.96l-3.96 3.96zM449.59 995.8l3.96 -3.96l3.96 3.96l-3.96 3.96zM496.59 904.2l3.96 -3.96l3.96 3.96l-3.96 3.96zM503.79 904.2l3.96 -3.96l3.96 3.96l-3.96 3.96zM514.89 904.2l3.96 -3.96l3.96 3.96l-3.96 3.96z" fill="#0000ff"/>
<polyline points="427.85,976.28 430.25,976.23 434.25,975.93 440.75,974.89 443.25,974.33 444.05,974.14 451.25,972.07 453.55,971.27 458.05,969.41 464.55,964.22 469.05,958.56 473.05,953.35 478.05,948.62 480.55,945.43 495.55,930.86 499.55,927.76 500.55,927.48 500.75,927.42 507.75,927.37 508.75,927.56 516.35,931.75 518.05,933.06 518.85,933.7 534.85,947.52 536.05,948.61 548.05,960.08" fill="none" stroke="#ff0000" stroke-width="2.0" stroke-linejoin="round" stroke-linecap="round"/>
</g>
<g clip-path="url(#c5_3)">
<path d="M674.71 963.5l3.96 -3.96l3.96 3.96l-3.96 3.96zM674.71 963.5l3.96 -3.96l3.96 3.96l-3.96 3.96zM674.71 963.5l3.96 -3.96l3.96 3.96l-3.96 3.96zM626.61 993.3l3.96 -3.96l3.96 3.96l-3.96 3.96zM626.61 993.3l3.96 -3.96l3.96 3.96l-3.96 3.96zM626.61 993.3l3.96 -3.96l3.96 3.96l-3.96 3.96zM578.91 926.3l3.96 -3.96l3.96 3.96l-3.96 3.96zM578.91 926.3l3.96 -3.96l3.96 3.96l-3.96 3.96zM578.91 926.3l3.96 -3.96l3.96 3.96l-3.96 3.96zM590.91 954.8l3.96 -3.96l3.96 3.96l-3.96 3.96zM590.91 954.8l3.96 -3.96l3.96 3.96l-3.96 3.96zM590.91 954.8l3.96 -3.96l3.96 3.96l-3.96 3.96zM646.91 928.8l3.96 -3.96l3.96 3.96l-3.96 3.96zM646.91 928.8l3.96 -3.96l3.96 3.96l-3.96 3.96zM626.61 892l3.96 -3.96l3.96 3.96l-3.96 3.96zM698.61 1011.8l3.96 -3.96l3.96 3.96l-3.96 3.96zM698.61 1011.8l3.96 -3.96l3.96 3.96l-3.96 3.96zM698.61 999l3.96 -3.96l3.96 3.96l-3.96 3.96zM634.61 938.8l3.96 -3.96l3.96 3.96l-3.96 3.96zM634.61 938.8l3.96 -3.96l3.96 3.96l-3.96 3.96zM634.61 938.8l3.96 -3.96l3.96 3.96l-3.96 3.96zM602.91 915l3.96 -3.96l3.96 3.96l-3.96 3.96zM602.91 915l3.96 -3.96l3.96 3.96l-3.96 3.96zM602.91 915l3.96 -3.96l3.96 3.96l-3.96 3.96zM662.71 995.8l3.96 -3.96l3.96 3.96l-3.96 3.96zM662.71 995.8l3.96 -3.96l3.96 3.96l-3.96 3.96zM662.71 995.8l3.96 -3.96l3.96 3.96l-3.96 3.96zM650.61 904.2l3.96 -3.96l3.96 3.96l-3.96 3.96zM650.61 904.2l3.96 -3.96l3.96 3.96l-3.96 3.96zM650.61 904.2l3.96 -3.96l3.96 3.96l-3.96 3.96z" fill="#0000ff"/>
<polyline points="582.87,930.96 594.87,934.66 606.87,939.38 630.57,941.87 638.57,942.64 650.87,948.04 654.57,950.29 666.67,957.69 678.67,974.8 702.57,1007.6" fill="none" stroke="#ff0000" stroke-width="2.0" stroke-linejoin="round" stroke-linecap="round"/>
</g>
<g clip-path="url(#c5_4)">
<path d="M823.53 963.5l3.96 -3.96l3.96 3.96l-3.96 3.96zM823.53 963.5l3.96 -3.96l3.96 3.96l-3.96 3.96zM823.53 963.5l3.96 -3.96l3.96 3.96l-3.96 3.96zM813.53 993.3l3.96 -3.96l3.96 3.96l-3.96 3.96zM813.53 993.3l3.96 -3.96l3.96 3.96l-3.96 3.96zM813.53 993.3l3.96 -3.96l3.96 3.96l-3.96 3.96zM768.73 926.3l3.96 -3.96l3.96 3.96l-3.96 3.96zM768.73 926.3l3.96 -3.96l3.96 3.96l-3.96 3.96zM768.73 926.3l3.96 -3.96l3.96 3.96l-3.96 3.96zM733.73 954.8l3.96 -3.96l3.96 3.96l-3.96 3.96zM733.73 954.8l3.96 -3.96l3.96 3.96l-3.96 3.96zM733.73 954.8l3.96 -3.96l3.96 3.96l-3.96 3.96zM853.23 928.8l3.96 -3.96l3.96 3.96l-3.96 3.96zM853.23 928.8l3.96 -3.96l3.96 3.96l-3.96 3.96zM853.23 892l3.96 -3.96l3.96 3.96l-3.96 3.96zM843.53 1011.8l3.96 -3.96l3.96 3.96l-3.96 3.96zM843.53 1011.8l3.96 -3.96l3.96 3.96l-3.96 3.96zM838.73 999l3.96 -3.96l3.96 3.96l-3.96 3.96zM843.53 938.8l3.96 -3.96l3.96 3.96l-3.96 3.96zM843.53 938.8l3.96 -3.96l3.96 3.96l-3.96 3.96zM843.53 938.8l3.96 -3.96l3.96 3.96l-3.96 3.96zM803.53 915l3.96 -3.96l3.96 3.96l-3.96 3.96zM803.53 915l3.96 -3.96l3.96 3.96l-3.96 3.96zM803.53 915l3.96 -3.96l3.96 3.96l-3.96 3.96zM793.73 995.8l3.96 -3.96l3.96 3.96l-3.96 3.96zM793.73 995.8l3.96 -3.96l3.96 3.96l-3.96 3.96zM793.73 995.8l3.96 -3.96l3.96 3.96l-3.96 3.96zM848.53 904.2l3.96 -3.96l3.96 3.96l-3.96 3.96zM848.53 904.2l3.96 -3.96l3.96 3.96l-3.96 3.96zM848.53 904.2l3.96 -3.96l3.96 3.96l-3.96 3.96z" fill="#0000ff"/>
<polyline points="737.69,945.37 772.69,951.63 797.69,956.7 807.49,968.01 817.49,966.98 827.49,968.28 842.69,949.85 847.49,940.82 852.49,931 857.19,921" fill="none" stroke="#ff0000" stroke-width="2.0" stroke-linejoin="round" stroke-linecap="round"/>
</g>
<g clip-path="url(#c6_0)">
<path d="M114.84 1164.3l3.96 -3.96l3.96 3.96l-3.96 3.96zM114.84 1164.3l3.96 -3.96l3.96 3.96l-3.96 3.96zM114.84 1164.3l3.96 -3.96l3.96 3.96l-3.96 3.96zM139.54 1124.3l3.96 -3.96l3.96 3.96l-3.96 3.96zM139.54 1124.3l3.96 -3.96l3.96 3.96l-3.96 3.96zM139.54 1124.3l3.96 -3.96l3.96 3.96l-3.96 3.96zM147.04 1159.3l3.96 -3.96l3.96 3.96l-3.96 3.96zM147.04 1159.3l3.96 -3.96l3.96 3.96l-3.96 3.96zM147.04 1159.3l3.96 -3.96l3.96 3.96l-3.96 3.96zM149.54 1166.5l3.96 -3.96l3.96 3.96l-3.96 3.96zM149.54 1166.5l3.96 -3.96l3.96 3.96l-3.96 3.96zM149.54 1166.5l3.96 -3.96l3.96 3.96l-3.96 3.96zM156.54 1046.8l3.96 -3.96l3.96 3.96l-3.96 3.96zM156.54 1046.8l3.96 -3.96l3.96 3.96l-3.96 3.96zM156.54 1054.5l3.96 -3.96l3.96 3.96l-3.96 3.96zM165.74 1062l3.96 -3.96l3.96 3.96l-3.96 3.96zM165.74 1062l3.96 -3.96l3.96 3.96l-3.96 3.96zM165.74 1076.5l3.96 -3.96l3.96 3.96l-3.96 3.96zM173.04 1101.5l3.96 -3.96l3.96 3.96l-3.96 3.96zM173.04 1101.5l3.96 -3.96l3.96 3.96l-3.96 3.96zM173.04 1101.5l3.96 -3.96l3.96 3.96l-3.96 3.96zM194.24 1124.3l3.96 -3.96l3.96 3.96l-3.96 3.96zM194.24 1124.3l3.96 -3.96l3.96 3.96l-3.96 3.96zM194.24 1124.3l3.96 -3.96l3.96 3.96l-3.96 3.96zM212.24 1088.8l3.96 -3.96l3.96 3.96l-3.96 3.96zM212.24 1088.8l3.96 -3.96l3.96 3.96l-3.96 3.96zM212.24 1088.8l3.96 -3.96l3.96 3.96l-3.96 3.96zM234.54 1111l3.96 -3.96l3.96 3.96l-3.96 3.96zM234.54 1111l3.96 -3.96l3.96 3.96l-3.96 3.96zM234.54 1111l3.96 -3.96l3.96 3.96l-3.96 3.96z" fill="#0000ff"/>
<polyline points="118.8,1164.05 143.5,1143.74 151,1132.63 153.5,1126.46 160.5,1112.48 169.7,1091.66 177,1096.56 198.2,1101.54 216.2,1104.98 238.5,1106.92" fill="none" stroke="#ff0000" stroke-width="2.0" stroke-linejoin="round" stroke-linecap="round"/>
</g>
<g clip-path="url(#c6_1)">
<path d="M318.34 1164.3l3.96 -3.96l3.96 3.96l-3.96 3.96zM331.54 1164.3l3.96 -3.96l3.96 3.96l-3.96 3.96zM334.54 1164.3l3.96 -3.96l3.96 3.96l-3.96 3.96zM335.84 1124.3l3.96 -3.96l3.96 3.96l-3.96 3.96zM348.34 1124.3l3.96 -3.96l3.96 3.96l-3.96 3.96zM350.74 1124.3l3.96 -3.96l3.96 3.96l-3.96 3.96zM385.54 1159.3l3.96 -3.96l3.96 3.96l-3.96 3.96zM385.54 1159.3l3.96 -3.96l3.96 3.96l-3.96 3.96zM389.54 1159.3l3.96 -3.96l3.96 3.96l-3.96 3.96zM379.54 1166.5l3.96 -3.96l3.96 3.96l-3.96 3.96zM383.54 1166.5l3.96 -3.96l3.96 3.96l-3.96 3.96zM387.04 1166.5l3.96 -3.96l3.96 3.96l-3.96 3.96zM302.84 1046.8l3.96 -3.96l3.96 3.96l-3.96 3.96zM310.54 1046.8l3.96 -3.96l3.96 3.96l-3.96 3.96zM315.84 1054.5l3.96 -3.96l3.96 3.96l-3.96 3.96zM334.84 1062l3.96 -3.96l3.96 3.96l-3.96 3.96zM336.34 1062l3.96 -3.96l3.96 3.96l-3.96 3.96zM337.84 1076.5l3.96 -3.96l3.96 3.96l-3.96 3.96zM314.24 1101.5l3.96 -3.96l3.96 3.96l-3.96 3.96zM321.54 1101.5l3.96 -3.96l3.96 3.96l-3.96 3.96zM326.74 1101.5l3.96 -3.96l3.96 3.96l-3.96 3.96zM360.34 1124.3l3.96 -3.96l3.96 3.96l-3.96 3.96zM367.34 1124.3l3.96 -3.96l3.96 3.96l-3.96 3.96zM369.54 1124.3l3.96 -3.96l3.96 3.96l-3.96 3.96zM325.84 1088.8l3.96 -3.96l3.96 3.96l-3.96 3.96zM330.54 1088.8l3.96 -3.96l3.96 3.96l-3.96 3.96zM332.54 1088.8l3.96 -3.96l3.96 3.96l-3.96 3.96zM269.54 1111l3.96 -3.96l3.96 3.96l-3.96 3.96zM274.04 1111l3.96 -3.96l3.96 3.96l-3.96 3.96zM288.74 1111l3.96 -3.96l3.96 3.96l-3.96 3.96z" fill="#0000ff"/>
<polyline points="273.5,1109.74 278,1107.02 292.7,1098.89 306.8,1090.93 314.5,1084.03 318.2,1082.94 319.8,1083.17 322.3,1083.2 325.5,1083.11 329.8,1086.81 330.7,1087.8 334.5,1092.15 335.5,1093.27 336.5,1094.36 338.5,1096.47 338.8,1096.77 339.8,1097.92 340.3,1098.48 341.8,1100 352.3,1109.93 354.7,1112.52 364.3,1126.22 371.3,1136.23 373.5,1139.19 383.5,1152.56 387.5,1158.02 389.5,1160.78 391,1162.86 393.5,1166.35" fill="none" stroke="#ff0000" stroke-width="2.0" stroke-linejoin="round" stroke-linecap="round"/>
</g>
<g clip-path="url(#c6_2)">
<path d="M447.29 1164.3l3.96 -3.96l3.96 3.96l-3.96 3.96zM426.29 1164.3l3.96 -3.96l3.96 3.96l-3.96 3.96zM469.09 1164.3l3.96 -3.96l3.96 3.96l-3.96 3.96zM454.09 1124.3l3.96 -3.96l3.96 3.96l-3.96 3.96zM460.59 1124.3l3.96 -3.96l3.96 3.96l-3.96 3.96zM460.59 1124.3l3.96 -3.96l3.96 3.96l-3.96 3.96zM491.59 1159.3l3.96 -3.96l3.96 3.96l-3.96 3.96zM474.09 1159.3l3.96 -3.96l3.96 3.96l-3.96 3.96zM503.79 1159.3l3.96 -3.96l3.96 3.96l-3.96 3.96zM465.09 1166.5l3.96 -3.96l3.96 3.96l-3.96 3.96zM512.39 1166.5l3.96 -3.96l3.96 3.96l-3.96 3.96zM530.89 1166.5l3.96 -3.96l3.96 3.96l-3.96 3.96zM476.59 1046.8l3.96 -3.96l3.96 3.96l-3.96 3.96zM423.89 1046.8l3.96 -3.96l3.96 3.96l-3.96 3.96zM469.09 1054.5l3.96 -3.96l3.96 3.96l-3.96 3.96zM439.29 1062l3.96 -3.96l3.96 3.96l-3.96 3.96zM496.79 1062l3.96 -3.96l3.96 3.96l-3.96 3.96zM544.09 1076.5l3.96 -3.96l3.96 3.96l-3.96 3.96zM495.59 1101.5l3.96 -3.96l3.96 3.96l-3.96 3.96zM436.79 1101.5l3.96 -3.96l3.96 3.96l-3.96 3.96zM514.09 1101.5l3.96 -3.96l3.96 3.96l-3.96 3.96zM504.79 1124.3l3.96 -3.96l3.96 3.96l-3.96 3.96zM532.09 1124.3l3.96 -3.96l3.96 3.96l-3.96 3.96zM512.39 1124.3l3.96 -3.96l3.96 3.96l-3.96 3.96zM440.09 1088.8l3.96 -3.96l3.96 3.96l-3.96 3.96zM430.29 1088.8l3.96 -3.96l3.96 3.96l-3.96 3.96zM449.59 1088.8l3.96 -3.96l3.96 3.96l-3.96 3.96zM496.59 1111l3.96 -3.96l3.96 3.96l-3.96 3.96zM503.79 1111l3.96 -3.96l3.96 3.96l-3.96 3.96zM514.89 1111l3.96 -3.96l3.96 3.96l-3.96 3.96z" fill="#0000ff"/>
<polyline points="427.85,1085.77 430.25,1088.24 434.25,1092.35 440.75,1098.93 443.25,1101.39 444.05,1102.17 451.25,1108.89 453.55,1110.94 458.05,1114.82 464.55,1120.22 469.05,1121.15 473.05,1122.34 478.05,1121.28 480.55,1120.9 495.55,1119.72 499.55,1118.33 500.55,1118.26 500.75,1118.24 507.75,1121.39 508.75,1121.86 516.35,1122.95 518.05,1122.83 518.85,1122.75 534.85,1120.64 536.05,1120.48 548.05,1118.64" fill="none" stroke="#ff0000" stroke-width="2.0" stroke-linejoin="round" stroke-linecap="round"/>
</g>
<g clip-path="url(#c6_3)">
<path d="M674.71 1164.3l3.96 -3.96l3.96 3.96l-3.96 3.96zM674.71 1164.3l3.96 -3.96l3.96 3.96l-3.96 3.96zM674.71 1164.3l3.96 -3.96l3.96 3.96l-3.96 3.96zM626.61 1124.3l3.96 -3.96l3.96 3.96l-3.96 3.96zM626.61 1124.3l3.96 -3.96l3.96 3.96l-3.96 3.96zM626.61 1124.3l3.96 -3.96l3.96 3.96l-3.96 3.96zM578.91 1159.3l3.96 -3.96l3.96 3.96l-3.96 3.96zM578.91 1159.3l3.96 -3.96l3.96 3.96l-3.96 3.96zM578.91 1159.3l3.96 -3.96l3.96 3.96l-3.96 3.96zM590.91 1166.5l3.96 -3.96l3.96 3.96l-3.96 3.96zM590.91 1166.5l3.96 -3.96l3.96 3.96l-3.96 3.96zM590.91 1166.5l3.96 -3.96l3.96 3.96l-3.96 3.96zM646.91 1046.8l3.96 -3.96l3.96 3.96l-3.96 3.96zM646.91 1046.8l3.96 -3.96l3.96 3.96l-3.96 3.96zM626.61 1054.5l3.96 -3.96l3.96 3.96l-3.96 3.96zM698.61 1062l3.96 -3.96l3.96 3.96l-3.96 3.96zM698.61 1062l3.96 -3.96l3.96 3.96l-3.96 3.96zM698.61 1076.5l3.96 -3.96l3.96 3.96l-3.96 3.96zM634.61 1101.5l3.96 -3.96l3.96 3.96l-3.96 3.96zM634.61 1101.5l3.96 -3.96l3.96 3.96l-3.96 3.96zM634.61 1101.5l3.96 -3.96l3.96 3.96l-3.96 3.96zM602.91 1124.3l3.96 -3.96l3.96 3.96l-3.96 3.96zM602.91 1124.3l3.96 -3.96l3.96 3.96l-3.96 3.96zM602.91 1124.3l3.96 -3.96l3.96 3.96l-3.96 3.96zM662.71 1088.8l3.96 -3.96l3.96 3.96l-3.96 3.96zM662.71 1088.8l3.96 -3.96l3.96 3.96l-3.96 3.96zM662.71 1088.8l3.96 -3.96l3.96 3.96l-3.96 3.96zM650.61 1111l3.96 -3.96l3.96 3.96l-3.96 3.96zM650.61 1111l3.96 -3.96l3.96 3.96l-3.96 3.96zM650.61 1111l3.96 -3.96l3.96 3.96l-3.96 3.96z" fill="#0000ff"/>
<polyline points="582.87,1164.32 594.87,1150.98 606.87,1138.26 630.57,1111.85 638.57,1107.45 650.87,1100.18 654.57,1098.21 666.67,1094.26 678.67,1083.55 702.57,1067.53" fill="none" stroke="#ff0000" stroke-width="2.0" stroke-linejoin="round" stroke-linecap="round"/>
</g>
<g clip-path="url(#c6_4)">
<path d="M823.53 1164.3l3.96 -3.96l3.96 3.96l-3.96 3.96zM823.53 1164.3l3.96 -3.96l3.96 3.96l-3.96 3.96zM823.53 1164.3l3.96 -3.96l3.96 3.96l-3.96 3.96zM813.53 1124.3l3.96 -3.96l3.96 3.96l-3.96 3.96zM813.53 1124.3l3.96 -3.96l3.96 3.96l-3.96 3.96zM813.53 1124.3l3.96 -3.96l3.96 3.96l-3.96 3.96zM768.73 1159.3l3.96 -3.96l3.96 3.96l-3.96 3.96zM768.73 1159.3l3.96 -3.96l3.96 3.96l-3.96 3.96zM768.73 1159.3l3.96 -3.96l3.96 3.96l-3.96 3.96zM733.73 1166.5l3.96 -3.96l3.96 3.96l-3.96 3.96zM733.73 1166.5l3.96 -3.96l3.96 3.96l-3.96 3.96zM733.73 1166.5l3.96 -3.96l3.96 3.96l-3.96 3.96zM853.23 1046.8l3.96 -3.96l3.96 3.96l-3.96 3.96zM853.23 1046.8l3.96 -3.96l3.96 3.96l-3.96 3.96zM853.23 1054.5l3.96 -3.96l3.96 3.96l-3.96 3.96zM843.53 1062l3.96 -3.96l3.96 3.96l-3.96 3.96zM843.53 1062l3.96 -3.96l3.96 3.96l-3.96 3.96zM838.73 1076.5l3.96 -3.96l3.96 3.96l-3.96 3.96zM843.53 1101.5l3.96 -3.96l3.96 3.96l-3.96 3.96zM843.53 1101.5l3.96 -3.96l3.96 3.96l-3.96 3.96zM843.53 1101.5l3.96 -3.96l3.96 3.96l-3.96 3.96zM803.53 1124.3l3.96 -3.96l3.96 3.96l-3.96 3.96zM803.53 1124.3l3.96 -3.96l3.96 3.96l-3.96 3.96zM803.53 1124.3l3.96 -3.96l3.96 3.96l-3.96 3.96zM793.73 1088.8l3.96 -3.96l3.96 3.96l-3.96 3.96zM793.73 1088.8l3.96 -3.96l3.96 3.96l-3.96 3.96zM793.73 1088.8l3.96 -3.96l3.96 3.96l-3.96 3.96zM848.53 1111l3.96 -3.96l3.96 3.96l-3.96 3.96zM848.53 1111l3.96 -3.96l3.96 3.96l-3.96 3.96zM848.53 1111l3.96 -3.96l3.96 3.96l-3.96 3.96z" fill="#0000ff"/>
<polyline points="737.69,1169.19 772.69,1146.01 797.69,1129.9 807.49,1117.95 817.49,1127.06 827.49,1121.39 842.69,1101.18 847.49,1090.14 852.49,1078.11 857.19,1066.52" fill="none" stroke="#ff0000" stroke-width="2.0" stroke-linejoin="round" stroke-linecap="round"/>
</g>
<g clip-path="url(#c6_5)">
<path d="M936.55 1164.3l3.96 -3.96l3.96 3.96l-3.96 3.96zM936.55 1164.3l3.96 -3.96l3.96 3.96l-3.96 3.96zM936.55 1164.3l3.96 -3.96l3.96 3.96l-3.96 3.96zM906.75 1124.3l3.96 -3.96l3.96 3.96l-3.96 3.96zM906.75 1124.3l3.96 -3.96l3.96 3.96l-3.96 3.96zM906.75 1124.3l3.96 -3.96l3.96 3.96l-3.96 3.96zM973.75 1159.3l3.96 -3.96l3.96 3.96l-3.96 3.96zM973.75 1159.3l3.96 -3.96l3.96 3.96l-3.96 3.96zM973.75 1159.3l3.96 -3.96l3.96 3.96l-3.96 3.96zM945.25 1166.5l3.96 -3.96l3.96 3.96l-3.96 3.96zM945.25 1166.5l3.96 -3.96l3.96 3.96l-3.96 3.96zM945.25 1166.5l3.96 -3.96l3.96 3.96l-3.96 3.96zM971.25 1046.8l3.96 -3.96l3.96 3.96l-3.96 3.96zM971.25 1046.8l3.96 -3.96l3.96 3.96l-3.96 3.96zM1008.05 1054.5l3.96 -3.96l3.96 3.96l-3.96 3.96zM888.25 1062l3.96 -3.96l3.96 3.96l-3.96 3.96zM888.25 1062l3.96 -3.96l3.96 3.96l-3.96 3.96zM901.05 1076.5l3.96 -3.96l3.96 3.96l-3.96 3.96zM961.25 1101.5l3.96 -3.96l3.96 3.96l-3.96 3.96zM961.25 1101.5l3.96 -3.96l3.96 3.96l-3.96 3.96zM961.25 1101.5l3.96 -3.96l3.96 3.96l-3.96 3.96zM985.05 1124.3l3.96 -3.96l3.96 3.96l-3.96 3.96zM985.05 1124.3l3.96 -3.96l3.96 3.96l-3.96 3.96zM985.05 1124.3l3.96 -3.96l3.96 3.96l-3.96 3.96zM904.25 1088.8l3.96 -3.96l3.96 3.96l-3.96 3.96zM904.25 1088.8l3.96 -3.96l3.96 3.96l-3.96 3.96zM904.25 1088.8l3.96 -3.96l3.96 3.96l-3.96 3.96zM995.85 1111l3.96 -3.96l3.96 3.96l-3.96 3.96zM995.85 1111l3.96 -3.96l3.96 3.96l-3.96 3.96zM995.85 1111l3.96 -3.96l3.96 3.96l-3.96 3.96z" fill="#0000ff"/>
<polyline points="892.21,1067.24 905.01,1091.78 908.21,1097.77 910.71,1102.4 940.51,1156.73 949.21,1155.8 965.21,1143.71 975.21,1132.77 977.71,1131.04 989.01,1121.6 999.81,1109.39 1012.01,1093" fill="none" stroke="#ff0000" stroke-width="2.0" stroke-linejoin="round" stroke-linecap="round"/>
</g>
<g clip-path="url(#c7_0)">
<path d="M114.84 1258.2l3.96 -3.96l3.96 3.96l-3.96 3.96zM114.84 1258.2l3.96 -3.96l3.96 3.96l-3.96 3.96zM114.84 1258.2l3.96 -3.96l3.96 3.96l-3.96 3.96zM139.54 1303l3.96 -3.96l3.96 3.96l-3.96 3.96zM139.54 1303l3.96 -3.96l3.96 3.96l-3.96 3.96zM139.54 1320.8l3.96 -3.96l3.96 3.96l-3.96 3.96zM147.04 1310.5l3.96 -3.96l3.96 3.96l-3.96 3.96zM147.04 1310.5l3.96 -3.96l3.96 3.96l-3.96 3.96zM147.04 1310.5l3.96 -3.96l3.96 3.96l-3.96 3.96zM149.54 1312.2l3.96 -3.96l3.96 3.96l-3.96 3.96zM149.54 1312.2l3.96 -3.96l3.96 3.96l-3.96 3.96zM149.54 1312.2l3.96 -3.96l3.96 3.96l-3.96 3.96zM156.54 1321l3.96 -3.96l3.96 3.96l-3.96 3.96zM156.54 1296.5l3.96 -3.96l3.96 3.96l-3.96 3.96zM156.54 1321l3.96 -3.96l3.96 3.96l-3.96 3.96zM165.74 1269.3l3.96 -3.96l3.96 3.96l-3.96 3.96zM165.74 1269.3l3.96 -3.96l3.96 3.96l-3.96 3.96zM165.74 1269.3l3.96 -3.96l3.96 3.96l-3.96 3.96zM173.04 1289.8l3.96 -3.96l3.96 3.96l-3.96 3.96zM173.04 1289.8l3.96 -3.96l3.96 3.96l-3.96 3.96zM173.04 1312.2l3.96 -3.96l3.96 3.96l-3.96 3.96zM194.24 1302l3.96 -3.96l3.96 3.96l-3.96 3.96zM194.24 1302l3.96 -3.96l3.96 3.96l-3.96 3.96zM194.24 1302l3.96 -3.96l3.96 3.96l-3.96 3.96zM212.24 1312.2l3.96 -3.96l3.96 3.96l-3.96 3.96zM212.24 1320.8l3.96 -3.96l3.96 3.96l-3.96 3.96zM212.24 1303l3.96 -3.96l3.96 3.96l-3.96 3.96zM234.54 1201.5l3.96 -3.96l3.96 3.96l-3.96 3.96zM234.54 1298.5l3.96 -3.96l3.96 3.96l-3.96 3.96zM234.54 1303.5l3.96 -3.96l3.96 3.96l-3.96 3.96z" fill="#0000ff"/>
<polyline points="118.8,1259.67 143.5,1298.89 151,1308.9 153.5,1308.38 160.5,1305.84 169.7,1301.26 177,1302.26 198.2,1302.93 216.2,1303.86 238.5,1304.69" fill="none" stroke="#ff0000" stroke-width="2.0" stroke-linejoin="round" stroke-linecap="round"/>
</g>
<g clip-path="url(#c7_1)">
<path d="M318.34 1258.2l3.96 -3.96l3.96 3.96l-3.96 3.96zM331.54 1258.2l3.96 -3.96l3.96 3.96l-3.96 3.96zM334.54 1258.2l3.96 -3.96l3.96 3.96l-3.96 3.96zM335.84 1303l3.96 -3.96l3.96 3.96l-3.96 3.96zM348.34 1303l3.96 -3.96l3.96 3.96l-3.96 3.96zM350.74 1320.8l3.96 -3.96l3.96 3.96l-3.96 3.96zM385.54 1310.5l3.96 -3.96l3.96 3.96l-3.96 3.96zM385.54 1310.5l3.96 -3.96l3.96 3.96l-3.96 3.96zM389.54 1310.5l3.96 -3.96l3.96 3.96l-3.96 3.96zM379.54 1312.2l3.96 -3.96l3.96 3.96l-3.96 3.96zM383.54 1312.2l3.96 -3.96l3.96 3.96l-3.96 3.96zM387.04 1312.2l3.96 -3.96l3.96 3.96l-3.96 3.96zM302.84 1321l3.96 -3.96l3.96 3.96l-3.96 3.96zM310.54 1296.5l3.96 -3.96l3.96 3.96l-3.96 3.96zM315.84 1321l3.96 -3.96l3.96 3.96l-3.96 3.96zM334.84 1269.3l3.96 -3.96l3.96 3.96l-3.96 3.96zM336.34 1269.3l3.96 -3.96l3.96 3.96l-3.96 3.96zM337.84 1269.3l3.96 -3.96l3.96 3.96l-3.96 3.96zM314.24 1289.8l3.96 -3.96l3.96 3.96l-3.96 3.96zM321.54 1289.8l3.96 -3.96l3.96 3.96l-3.96 3.96zM326.74 1312.2l3.96 -3.96l3.96 3.96l-3.96 3.96zM360.34 1302l3.96 -3.96l3.96 3.96l-3.96 3.96zM367.34 1302l3.96 -3.96l3.96 3.96l-3.96 3.96zM369.54 1302l3.96 -3.96l3.96 3.96l-3.96 3.96zM325.84 1312.2l3.96 -3.96l3.96 3.96l-3.96 3.96zM330.54 1320.8l3.96 -3.96l3.96 3.96l-3.96 3.96zM332.54 1303l3.96 -3.96l3.96 3.96l-3.96 3.96zM269.54 1201.5l3.96 -3.96l3.96 3.96l-3.96 3.96zM274.04 1298.5l3.96 -3.96l3.96 3.96l-3.96 3.96zM288.74 1303.5l3.96 -3.96l3.96 3.96l-3.96 3.96z" fill="#0000ff"/>
<polyline points="273.5,1305.12 278,1304.85 292.7,1303.44 306.8,1302.34 314.5,1302.13 318.2,1300.62 319.8,1299.6 322.3,1298.26 325.5,1296.68 329.8,1294.38 330.7,1294.17 334.5,1293.25 335.5,1293.05 336.5,1292.91 338.5,1292.82 338.8,1292.82 339.8,1293.1 340.3,1293.24 341.8,1293.38 352.3,1296.62 354.7,1297.49 364.3,1302.2 371.3,1304.97 373.5,1305.79 383.5,1309.15 387.5,1310.42 389.5,1311.05 391,1311.51 393.5,1312.29" fill="none" stroke="#ff0000" stroke-width="2.0" stroke-linejoin="round" stroke-linecap="round"/>
</g>
<g clip-path="url(#c7_2)">
<path d="M447.29 1258.2l3.96 -3.96l3.96 3.96l-3.96 3.96zM426.29 1258.2l3.96 -3.96l3.96 3.96l-3.96 3.96zM469.09 1258.2l3.96 -3.96l3.96 3.96l-3.96 3.96zM454.09 1303l3.96 -3.96l3.96 3.96l-3.96 3.96zM460.59 1303l3.96 -3.96l3.96 3.96l-3.96 3.96zM460.59 1320.8l3.96 -3.96l3.96 3.96l-3.96 3.96zM491.59 1310.5l3.96 -3.96l3.96 3.96l-3.96 3.96zM474.09 1310.5l3.96 -3.96l3.96 3.96l-3.96 3.96zM503.79 1310.5l3.96 -3.96l3.96 3.96l-3.96 3.96zM465.09 1312.2l3.96 -3.96l3.96 3.96l-3.96 3.96zM512.39 1312.2l3.96 -3.96l3.96 3.96l-3.96 3.96zM530.89 1312.2l3.96 -3.96l3.96 3.96l-3.96 3.96zM476.59 1321l3.96 -3.96l3.96 3.96l-3.96 3.96zM423.89 1296.5l3.96 -3.96l3.96 3.96l-3.96 3.96zM469.09 1321l3.96 -3.96l3.96 3.96l-3.96 3.96zM439.29 1269.3l3.96 -3.96l3.96 3.96l-3.96 3.96zM496.79 1269.3l3.96 -3.96l3.96 3.96l-3.96 3.96zM544.09 1269.3l3.96 -3.96l3.96 3.96l-3.96 3.96zM495.59 1289.8l3.96 -3.96l3.96 3.96l-3.96 3.96zM436.79 1289.8l3.96 -3.96l3.96 3.96l-3.96 3.96zM514.09 1312.2l3.96 -3.96l3.96 3.96l-3.96 3.96zM504.79 1302l3.96 -3.96l3.96 3.96l-3.96 3.96zM532.09 1302l3.96 -3.96l3.96 3.96l-3.96 3.96zM512.39 1302l3.96 -3.96l3.96 3.96l-3.96 3.96zM440.09 1312.2l3.96 -3.96l3.96 3.96l-3.96 3.96zM430.29 1320.8l3.96 -3.96l3.96 3.96l-3.96 3.96zM449.59 1303l3.96 -3.96l3.96 3.96l-3.96 3.96zM496.59 1201.5l3.96 -3.96l3.96 3.96l-3.96 3.96zM503.79 1298.5l3.96 -3.96l3.96 3.96l-3.96 3.96zM514.89 1303.5l3.96 -3.96l3.96 3.96l-3.96 3.96z" fill="#0000ff"/>
<polyline points="427.85,1284.89 430.25,1286.28 434.25,1288.62 440.75,1292.48 443.25,1293.98 444.05,1294.46 451.25,1298.75 453.55,1300.11 458.05,1302.73 464.55,1306.68 469.05,1307.88 473.05,1309.2 478.05,1307.63 480.55,1307.31 495.55,1305.59 499.55,1304.43 500.55,1304.12 500.75,1304.06 507.75,1303.86 508.75,1303.85 516.35,1302.81 518.05,1302.42 518.85,1302.24 534.85,1298.33 536.05,1298.04 548.05,1294.9" fill="none" stroke="#ff0000" stroke-width="2.0" stroke-linejoin="round" stroke-linecap="round"/>
</g>
<g clip-path="url(#c7_3)">
<path d="M674.71 1258.2l3.96 -3.96l3.96 3.96l-3.96 3.96zM674.71 1258.2l3.96 -3.96l3.96 3.96l-3.96 3.96zM674.71 1258.2l3.96 -3.96l3.96 3.96l-3.96 3.96zM626.61 1303l3.96 -3.96l3.96 3.96l-3.96 3.96zM626.61 1303l3.96 -3.96l3.96 3.96l-3.96 3.96zM626.61 1320.8l3.96 -3.96l3.96 3.96l-3.96 3.96zM578.91 1310.5l3.96 -3.96l3.96 3.96l-3.96 3.96zM578.91 1310.5l3.96 -3.96l3.96 3.96l-3.96 3.96zM578.91 1310.5l3.96 -3.96l3.96 3.96l-3.96 3.96zM590.91 1312.2l3.96 -3.96l3.96 3.96l-3.96 3.96zM590.91 1312.2l3.96 -3.96l3.96 3.96l-3.96 3.96zM590.91 1312.2l3.96 -3.96l3.96 3.96l-3.96 3.96zM646.91 1321l3.96 -3.96l3.96 3.96l-3.96 3.96zM646.91 1296.5l3.96 -3.96l3.96 3.96l-3.96 3.96zM626.61 1321l3.96 -3.96l3.96 3.96l-3.96 3.96zM698.61 1269.3l3.96 -3.96l3.96 3.96l-3.96 3.96zM698.61 1269.3l3.96 -3.96l3.96 3.96l-3.96 3.96zM698.61 1269.3l3.96 -3.96l3.96 3.96l-3.96 3.96zM634.61 1289.8l3.96 -3.96l3.96 3.96l-3.96 3.96zM634.61 1289.8l3.96 -3.96l3.96 3.96l-3.96 3.96zM634.61 1312.2l3.96 -3.96l3.96 3.96l-3.96 3.96zM602.91 1302l3.96 -3.96l3.96 3.96l-3.96 3.96zM602.91 1302l3.96 -3.96l3.96 3.96l-3.96 3.96zM602.91 1302l3.96 -3.96l3.96 3.96l-3.96 3.96zM662.71 1312.2l3.96 -3.96l3.96 3.96l-3.96 3.96zM662.71 1320.8l3.96 -3.96l3.96 3.96l-3.96 3.96zM662.71 1303l3.96 -3.96l3.96 3.96l-3.96 3.96zM650.61 1201.5l3.96 -3.96l3.96 3.96l-3.96 3.96zM650.61 1298.5l3.96 -3.96l3.96 3.96l-3.96 3.96zM650.61 1303.5l3.96 -3.96l3.96 3.96l-3.96 3.96z" fill="#0000ff"/>
<polyline points="582.87,1310.71 594.87,1308.96 606.87,1307.45 630.57,1304.06 638.57,1303.46 650.87,1296.75 654.57,1293.1 666.67,1281.65 678.67,1279.78 702.57,1266.26" fill="none" stroke="#ff0000" stroke-width="2.0" stroke-linejoin="round" stroke-linecap="round"/>
</g>
<g clip-path="url(#c7_4)">
<path d="M823.53 1258.2l3.96 -3.96l3.96 3.96l-3.96 3.96zM823.53 1258.2l3.96 -3.96l3.96 3.96l-3.96 3.96zM823.53 1258.2l3.96 -3.96l3.96 3.96l-3.96 3.96zM813.53 1303l3.96 -3.96l3.96 3.96l-3.96 3.96zM813.53 1303l3.96 -3.96l3.96 3.96l-3.96 3.96zM813.53 1320.8l3.96 -3.96l3.96 3.96l-3.96 3.96zM768.73 1310.5l3.96 -3.96l3.96 3.96l-3.96 3.96zM768.73 1310.5l3.96 -3.96l3.96 3.96l-3.96 3.96zM768.73 1310.5l3.96 -3.96l3.96 3.96l-3.96 3.96zM733.73 1312.2l3.96 -3.96l3.96 3.96l-3.96 3.96zM733.73 1312.2l3.96 -3.96l3.96 3.96l-3.96 3.96zM733.73 1312.2l3.96 -3.96l3.96 3.96l-3.96 3.96zM853.23 1321l3.96 -3.96l3.96 3.96l-3.96 3.96zM853.23 1296.5l3.96 -3.96l3.96 3.96l-3.96 3.96zM853.23 1321l3.96 -3.96l3.96 3.96l-3.96 3.96zM843.53 1269.3l3.96 -3.96l3.96 3.96l-3.96 3.96zM843.53 1269.3l3.96 -3.96l3.96 3.96l-3.96 3.96zM838.73 1269.3l3.96 -3.96l3.96 3.96l-3.96 3.96zM843.53 1289.8l3.96 -3.96l3.96 3.96l-3.96 3.96zM843.53 1289.8l3.96 -3.96l3.96 3.96l-3.96 3.96zM843.53 1312.2l3.96 -3.96l3.96 3.96l-3.96 3.96zM803.53 1302l3.96 -3.96l3.96 3.96l-3.96 3.96zM803.53 1302l3.96 -3.96l3.96 3.96l-3.96 3.96zM803.53 1302l3.96 -3.96l3.96 3.96l-3.96 3.96zM793.73 1312.2l3.96 -3.96l3.96 3.96l-3.96 3.96zM793.73 1320.8l3.96 -3.96l3.96 3.96l-3.96 3.96zM793.73 1303l3.96 -3.96l3.96 3.96l-3.96 3.96zM848.53 1201.5l3.96 -3.96l3.96 3.96l-3.96 3.96zM848.53 1298.5l3.96 -3.96l3.96 3.96l-3.96 3.96zM848.53 1303.5l3.96 -3.96l3.96 3.96l-3.96 3.96z" fill="#0000ff"/>
<polyline points="737.69,1313.23 772.69,1309.55 797.69,1306.26 807.49,1303.47 817.49,1295.41 827.49,1291.72 842.69,1290.4 847.49,1293.63 852.49,1298.13 857.19,1303.37" fill="none" stroke="#ff0000" stroke-width="2.0" stroke-linejoin="round" stroke-linecap="round"/>
</g>
<g clip-path="url(#c7_5)">
<path d="M936.55 1258.2l3.96 -3.96l3.96 3.96l-3.96 3.96zM936.55 1258.2l3.96 -3.96l3.96 3.96l-3.96 3.96zM936.55 1258.2l3.96 -3.96l3.96 3.96l-3.96 3.96zM906.75 1303l3.96 -3.96l3.96 3.96l-3.96 3.96zM906.75 1303l3.96 -3.96l3.96 3.96l-3.96 3.96zM906.75 1320.8l3.96 -3.96l3.96 3.96l-3.96 3.96zM973.75 1310.5l3.96 -3.96l3.96 3.96l-3.96 3.96zM973.75 1310.5l3.96 -3.96l3.96 3.96l-3.96 3.96zM973.75 1310.5l3.96 -3.96l3.96 3.96l-3.96 3.96zM945.25 1312.2l3.96 -3.96l3.96 3.96l-3.96 3.96zM945.25 1312.2l3.96 -3.96l3.96 3.96l-3.96 3.96zM945.25 1312.2l3.96 -3.96l3.96 3.96l-3.96 3.96zM971.25 1321l3.96 -3.96l3.96 3.96l-3.96 3.96zM971.25 1296.5l3.96 -3.96l3.96 3.96l-3.96 3.96zM1008.05 1321l3.96 -3.96l3.96 3.96l-3.96 3.96zM888.25 1269.3l3.96 -3.96l3.96 3.96l-3.96 3.96zM888.25 1269.3l3.96 -3.96l3.96 3.96l-3.96 3.96zM901.05 1269.3l3.96 -3.96l3.96 3.96l-3.96 3.96zM961.25 1289.8l3.96 -3.96l3.96 3.96l-3.96 3.96zM961.25 1289.8l3.96 -3.96l3.96 3.96l-3.96 3.96zM961.25 1312.2l3.96 -3.96l3.96 3.96l-3.96 3.96zM985.05 1302l3.96 -3.96l3.96 3.96l-3.96 3.96zM985.05 1302l3.96 -3.96l3.96 3.96l-3.96 3.96zM985.05 1302l3.96 -3.96l3.96 3.96l-3.96 3.96zM904.25 1312.2l3.96 -3.96l3.96 3.96l-3.96 3.96zM904.25 1320.8l3.96 -3.96l3.96 3.96l-3.96 3.96zM904.25 1303l3.96 -3.96l3.96 3.96l-3.96 3.96zM995.85 1201.5l3.96 -3.96l3.96 3.96l-3.96 3.96zM995.85 1298.5l3.96 -3.96l3.96 3.96l-3.96 3.96zM995.85 1303.5l3.96 -3.96l3.96 3.96l-3.96 3.96z" fill="#0000ff"/>
<polyline points="892.21,1292.57 905.01,1293.02 908.21,1293.04 910.71,1293.07 940.51,1287.05 949.21,1286.58 965.21,1302.07 975.21,1304.61 977.71,1304.47 989.01,1305.79 999.81,1307.58 1012.01,1309.43" fill="none" stroke="#ff0000" stroke-width="2.0" stroke-linejoin="round" stroke-linecap="round"/>
</g>
<g clip-path="url(#c7_6)">
<path d="M1045.07 1258.2l3.96 -3.96l3.96 3.96l-3.96 3.96zM1045.07 1258.2l3.96 -3.96l3.96 3.96l-3.96 3.96zM1045.07 1258.2l3.96 -3.96l3.96 3.96l-3.96 3.96zM1085.07 1303l3.96 -3.96l3.96 3.96l-3.96 3.96zM1085.07 1303l3.96 -3.96l3.96 3.96l-3.96 3.96zM1085.07 1320.8l3.96 -3.96l3.96 3.96l-3.96 3.96zM1050.07 1310.5l3.96 -3.96l3.96 3.96l-3.96 3.96zM1050.07 1310.5l3.96 -3.96l3.96 3.96l-3.96 3.96zM1050.07 1310.5l3.96 -3.96l3.96 3.96l-3.96 3.96zM1042.87 1312.2l3.96 -3.96l3.96 3.96l-3.96 3.96zM1042.87 1312.2l3.96 -3.96l3.96 3.96l-3.96 3.96zM1042.87 1312.2l3.96 -3.96l3.96 3.96l-3.96 3.96zM1162.57 1321l3.96 -3.96l3.96 3.96l-3.96 3.96zM1162.57 1296.5l3.96 -3.96l3.96 3.96l-3.96 3.96zM1154.87 1321l3.96 -3.96l3.96 3.96l-3.96 3.96zM1147.37 1269.3l3.96 -3.96l3.96 3.96l-3.96 3.96zM1147.37 1269.3l3.96 -3.96l3.96 3.96l-3.96 3.96zM1132.87 1269.3l3.96 -3.96l3.96 3.96l-3.96 3.96zM1107.87 1289.8l3.96 -3.96l3.96 3.96l-3.96 3.96zM1107.87 1289.8l3.96 -3.96l3.96 3.96l-3.96 3.96zM1107.87 1312.2l3.96 -3.96l3.96 3.96l-3.96 3.96zM1085.07 1302l3.96 -3.96l3.96 3.96l-3.96 3.96zM1085.07 1302l3.96 -3.96l3.96 3.96l-3.96 3.96zM1085.07 1302l3.96 -3.96l3.96 3.96l-3.96 3.96zM1120.57 1312.2l3.96 -3.96l3.96 3.96l-3.96 3.96zM1120.57 1320.8l3.96 -3.96l3.96 3.96l-3.96 3.96zM1120.57 1303l3.96 -3.96l3.96 3.96l-3.96 3.96zM1098.37 1201.5l3.96 -3.96l3.96 3.96l-3.96 3.96zM1098.37 1298.5l3.96 -3.96l3.96 3.96l-3.96 3.96zM1098.37 1303.5l3.96 -3.96l3.96 3.96l-3.96 3.96z" fill="#0000ff"/>
<polyline points="1046.83,1296.78 1049.03,1297.26 1054.03,1298.3 1089.03,1304.97 1102.33,1303.23 1111.83,1300.34 1124.53,1296.11 1136.83,1296.48 1151.33,1297.53 1158.83,1297.63 1166.53,1298.04" fill="none" stroke="#ff0000" stroke-width="2.0" stroke-linejoin="round" stroke-linecap="round"/>
</g>
<g clip-path="url(#c0_0)" fill="#22ffff" stroke="#000" stroke-width="2.0" stroke-linejoin="round">
<rect x="103.2" y="221.81" width="23.25" height="21.55"/>
<rect x="126.45" y="221.81" width="23.25" height="21.55"/>
<rect x="149.7" y="157.15" width="23.25" height="86.21"/>
<rect x="172.95" y="221.81" width="23.25" height="21.55"/>
<rect x="196.2" y="200.26" width="23.25" height="43.1"/>
<rect x="219.45" y="221.81" width="23.25" height="21.55"/>
</g>
<text transform="translate(178.7 143.15) scale(1 1.0)" font-size="27.46" text-anchor="middle">prov.eff</text>
<g clip-path="url(#c1_1)" fill="#22ffff" stroke="#000" stroke-width="2.0" stroke-linejoin="round">
<rect x="268.71" y="378.86" width="21.1" height="19.16"/>
<rect x="289.81" y="378.86" width="21.1" height="19.16"/>
<rect x="310.91" y="330.97" width="21.1" height="67.05"/>
<rect x="332.01" y="311.81" width="21.1" height="86.21"/>
<rect x="353.11" y="359.71" width="21.1" height="38.31"/>
<rect x="374.21" y="340.55" width="21.1" height="57.47"/>
</g>
<text transform="translate(333.37 299.51) scale(1 1.0)" font-size="27.46" text-anchor="middle">elev</text>
<g clip-path="url(#c2_2)" fill="#22ffff" stroke="#000" stroke-width="2.0" stroke-linejoin="round">
<rect x="421.8" y="509.58" width="18.87" height="43.1"/>
<rect x="440.67" y="498.8" width="18.87" height="53.88"/>
<rect x="459.54" y="488.03" width="18.87" height="64.66"/>
<rect x="478.41" y="531.13" width="18.87" height="21.55"/>
<rect x="497.28" y="466.47" width="18.87" height="86.21"/>
<rect x="516.15" y="520.35" width="18.87" height="32.33"/>
<rect x="535.02" y="531.13" width="18.87" height="21.55"/>
</g>
<text transform="translate(488.02 452.77) scale(1 1.0)" font-size="27.46" text-anchor="middle">max_rad</text>
<g clip-path="url(#c3_3)" fill="#22ffff" stroke="#000" stroke-width="2.0" stroke-linejoin="round">
<rect x="570.83" y="664.24" width="20" height="43.1"/>
<rect x="590.83" y="621.13" width="20" height="86.21"/>
<rect x="610.83" y="649.87" width="20" height="57.47"/>
<rect x="630.83" y="635.5" width="20" height="71.84"/>
<rect x="650.83" y="621.13" width="20" height="86.21"/>
<rect x="670.83" y="664.24" width="20" height="43.1"/>
<rect x="690.83" y="664.24" width="20" height="43.1"/>
</g>
<text transform="translate(642.68 606.63) scale(1 1.0)" font-size="27.46" text-anchor="middle">tmax_july</text>
<g clip-path="url(#c4_4)" fill="#22ffff" stroke="#000" stroke-width="2.0" stroke-linejoin="round">
<rect x="737.39" y="840.45" width="25" height="21.55"/>
<rect x="762.39" y="840.45" width="25" height="21.55"/>
<rect x="787.39" y="818.9" width="25" height="43.1"/>
<rect x="812.39" y="818.9" width="25" height="43.1"/>
<rect x="837.39" y="775.79" width="25" height="86.21"/>
</g>
<text transform="translate(797.34 761.49) scale(1 1.0)" font-size="27.46" text-anchor="middle">tmin_jan</text>
<g clip-path="url(#c5_5)" fill="#22ffff" stroke="#000" stroke-width="2.0" stroke-linejoin="round">
<rect x="881.28" y="969.64" width="27.17" height="47.02"/>
<rect x="908.45" y="993.15" width="27.17" height="23.51"/>
<rect x="935.62" y="969.64" width="27.17" height="47.02"/>
<rect x="962.79" y="930.45" width="27.17" height="86.21"/>
<rect x="989.96" y="985.31" width="27.17" height="31.35"/>
</g>
<text transform="translate(952 915.65) scale(1 1.0)" font-size="27.46" text-anchor="middle">ann_ppt</text>
<g clip-path="url(#c6_6)" fill="#22ffff" stroke="#000" stroke-width="2.0" stroke-linejoin="round">
<rect x="1040.07" y="1085.11" width="19.14" height="86.21"/>
<rect x="1059.21" y="1171.32" width="19.14" height="0"/>
<rect x="1078.35" y="1113.85" width="19.14" height="57.47"/>
<rect x="1097.49" y="1113.85" width="19.14" height="57.47"/>
<rect x="1116.63" y="1142.58" width="19.14" height="28.74"/>
<rect x="1135.77" y="1142.58" width="19.14" height="28.74"/>
<rect x="1154.91" y="1142.58" width="19.14" height="28.74"/>
</g>
<text transform="translate(1106.66 1070.61) scale(1 1.0)" font-size="27.46" text-anchor="middle">gdd_aug</text>
<g clip-path="url(#c7_7)" fill="#22ffff" stroke="#000" stroke-width="2.0" stroke-linejoin="round">
<rect x="1178.17" y="1316.4" width="23.3" height="9.58"/>
<rect x="1201.47" y="1239.77" width="23.3" height="86.21"/>
<rect x="1224.77" y="1311.61" width="23.3" height="14.37"/>
<rect x="1248.07" y="1297.24" width="23.3" height="28.74"/>
<rect x="1271.37" y="1325.98" width="23.3" height="0"/>
<rect x="1294.67" y="1325.98" width="23.3" height="0"/>
<rect x="1317.97" y="1321.19" width="23.3" height="4.79"/>
</g>
<text transform="translate(1260.82 1228.37) scale(1 1.03)" font-size="27.46" text-anchor="middle">AWS050</text>
<text transform="translate(333.37 153.94) scale(1 1.03)" font-size="21.12" text-anchor="middle">r = -0.45</text>
<text transform="translate(333.37 219.39) scale(1 1.03)" font-size="21.12" text-anchor="middle">0.012</text>
<text transform="translate(488.02 153.94) scale(1 1.03)" font-size="21.12" text-anchor="middle">r = 0.25</text>
<text transform="translate(488.02 219.39) scale(1 1.03)" font-size="21.12" text-anchor="middle">0.191</text>
<text transform="translate(642.68 153.94) scale(1 1.03)" font-size="21.12" text-anchor="middle">r = 0.11</text>
<text transform="translate(642.68 219.39) scale(1 1.03)" font-size="21.12" text-anchor="middle">0.573</text>
<text transform="translate(797.34 153.94) scale(1 1.03)" font-size="21.12" text-anchor="middle">r = 0.21</text>
<text transform="translate(797.34 219.39) scale(1 1.03)" font-size="21.12" text-anchor="middle">0.254</text>
<text transform="translate(952 153.94) scale(1 1.03)" font-size="21.12" text-anchor="middle">r = 0.27</text>
<text transform="translate(952 219.39) scale(1 1.03)" font-size="21.12" text-anchor="middle">0.15</text>
<text transform="translate(1106.66 159.98) scale(1 1.03)" font-size="38.0" text-anchor="middle">r = 0.39</text>
<text transform="translate(1106.66 224.94) scale(1 1.03)" font-size="38.0" text-anchor="middle">0.032</text>
<text transform="translate(1261.32 153.94) scale(1 1.03)" font-size="21.12" text-anchor="middle">r = 0.0099</text>
<text transform="translate(1261.32 219.39) scale(1 1.03)" font-size="21.12" text-anchor="middle">0.959</text>
<text transform="translate(488.02 308.6) scale(1 1.03)" font-size="21.12" text-anchor="middle">r = 0.22</text>
<text transform="translate(488.02 374.05) scale(1 1.03)" font-size="21.12" text-anchor="middle">0.245</text>
<text transform="translate(642.68 308.6) scale(1 1.03)" font-size="21.12" text-anchor="middle">r = -0.65</text>
<text transform="translate(642.68 374.05) scale(1 1.03)" font-size="21.12" text-anchor="middle">0</text>
<text transform="translate(797.34 308.6) scale(1 1.03)" font-size="21.12" text-anchor="middle">r = -0.83</text>
<text transform="translate(797.34 374.05) scale(1 1.03)" font-size="21.12" text-anchor="middle">0</text>
<text transform="translate(952 308.6) scale(1 1.03)" font-size="21.12" text-anchor="middle">r = -0.14</text>
<text transform="translate(952 374.05) scale(1 1.03)" font-size="21.12" text-anchor="middle">0.468</text>
<text transform="translate(1106.66 308.6) scale(1 1.03)" font-size="21.12" text-anchor="middle">r = -0.56</text>
<text transform="translate(1106.66 374.05) scale(1 1.03)" font-size="21.12" text-anchor="middle">0.001</text>
<text transform="translate(1261.32 308.6) scale(1 1.03)" font-size="21.12" text-anchor="middle">r = -0.42</text>
<text transform="translate(1261.32 374.05) scale(1 1.03)" font-size="21.12" text-anchor="middle">0.021</text>
<text transform="translate(642.68 463.26) scale(1 1.03)" font-size="21.12" text-anchor="middle">r = -0.32</text>
<text transform="translate(642.68 528.71) scale(1 1.03)" font-size="21.12" text-anchor="middle">0.083</text>
<text transform="translate(797.34 463.26) scale(1 1.03)" font-size="21.12" text-anchor="middle">r = -0.15</text>
<text transform="translate(797.34 528.71) scale(1 1.03)" font-size="21.12" text-anchor="middle">0.429</text>
<text transform="translate(952 469.3) scale(1 1.03)" font-size="38.0" text-anchor="middle">r = 0.38</text>
<text transform="translate(952 534.26) scale(1 1.03)" font-size="38.0" text-anchor="middle">0.039</text>
<text transform="translate(1106.66 463.26) scale(1 1.03)" font-size="21.12" text-anchor="middle">r = -0.17</text>
<text transform="translate(1106.66 528.71) scale(1 1.03)" font-size="21.12" text-anchor="middle">0.365</text>
<text transform="translate(1261.32 463.26) scale(1 1.03)" font-size="21.12" text-anchor="middle">r = -0.036</text>
<text transform="translate(1261.32 528.71) scale(1 1.03)" font-size="21.12" text-anchor="middle">0.85</text>
<text transform="translate(797.34 623.96) scale(1 1.03)" font-size="38.0" text-anchor="middle">r = 0.66</text>
<text transform="translate(797.34 688.92) scale(1 1.03)" font-size="38.0" text-anchor="middle">0</text>
<text transform="translate(952 617.92) scale(1 1.03)" font-size="21.12" text-anchor="middle">r = -0.51</text>
<text transform="translate(952 683.37) scale(1 1.03)" font-size="21.12" text-anchor="middle">0.004</text>
<text transform="translate(1106.66 623.96) scale(1 1.03)" font-size="38.0" text-anchor="middle">r = 0.53</text>
<text transform="translate(1106.66 688.92) scale(1 1.03)" font-size="38.0" text-anchor="middle">0.002</text>
<text transform="translate(1261.32 623.96) scale(1 1.03)" font-size="38.0" text-anchor="middle">r = 0.53</text>
<text transform="translate(1261.32 688.92) scale(1 1.03)" font-size="38.0" text-anchor="middle">0.002</text>
<text transform="translate(952 772.58) scale(1 1.03)" font-size="21.12" text-anchor="middle">r = 0.10</text>
<text transform="translate(952 838.03) scale(1 1.03)" font-size="21.12" text-anchor="middle">0.589</text>
<text transform="translate(1106.66 778.62) scale(1 1.03)" font-size="38.0" text-anchor="middle">r = 0.69</text>
<text transform="translate(1106.66 843.58) scale(1 1.03)" font-size="38.0" text-anchor="middle">0</text>
<text transform="translate(1261.32 778.62) scale(1 1.03)" font-size="38.0" text-anchor="middle">r = 0.39</text>
<text transform="translate(1261.32 843.58) scale(1 1.03)" font-size="38.0" text-anchor="middle">0.033</text>
<text transform="translate(1106.66 927.24) scale(1 1.03)" font-size="21.12" text-anchor="middle">r = -0.12</text>
<text transform="translate(1106.66 992.69) scale(1 1.03)" font-size="21.12" text-anchor="middle">0.543</text>
<text transform="translate(1261.32 927.24) scale(1 1.03)" font-size="21.12" text-anchor="middle">r = -0.065</text>
<text transform="translate(1261.32 992.69) scale(1 1.03)" font-size="21.12" text-anchor="middle">0.734</text>
<text transform="translate(1261.32 1081.9) scale(1 1.03)" font-size="21.12" text-anchor="middle">r = -0.034</text>
<text transform="translate(1261.32 1147.35) scale(1 1.03)" font-size="21.12" text-anchor="middle">0.858</text>
<path d="M126.45 1325.98H242.7M126.45 1325.98v12.67M149.7 1325.98v12.67M172.95 1325.98v12.67M196.2 1325.98v12.67M219.45 1325.98v12.67M242.7 1325.98v12.67M1325.98 230.96V114.71M1325.98 230.96h12.67M1325.98 207.71h12.67M1325.98 184.46h12.67M1325.98 161.21h12.67M1325.98 137.96h12.67M1325.98 114.71h12.67M289.81 114.05H395.31M289.81 114.05v-12.67M310.91 114.05v-12.67M332.01 114.05v-12.67M353.11 114.05v-12.67M374.21 114.05v-12.67M395.31 114.05v-12.67M114.05 376.92V271.42M114.05 376.92h-12.67M114.05 355.82h-12.67M114.05 334.72h-12.67M114.05 313.62h-12.67M114.05 292.52h-12.67M114.05 271.42h-12.67M440.67 1325.98H535.02M440.67 1325.98v12.67M459.54 1325.98v12.67M478.41 1325.98v12.67M497.28 1325.98v12.67M516.15 1325.98v12.67M535.02 1325.98v12.67M1325.98 535.38V441.03M1325.98 535.38h12.67M1325.98 516.51h12.67M1325.98 497.64h12.67M1325.98 478.77h12.67M1325.98 459.9h12.67M1325.98 441.03h12.67M590.83 114.05H690.83M590.83 114.05v-12.67M610.83 114.05v-12.67M630.83 114.05v-12.67M650.83 114.05v-12.67M670.83 114.05v-12.67M690.83 114.05v-12.67M114.05 694.54V594.54M114.05 694.54h-12.67M114.05 674.54h-12.67M114.05 654.54h-12.67M114.05 634.54h-12.67M114.05 614.54h-12.67M114.05 594.54h-12.67M737.39 1325.98H837.39M737.39 1325.98v12.67M762.39 1325.98v12.67M787.39 1325.98v12.67M812.39 1325.98v12.67M837.39 1325.98v12.67M1325.98 857.3V757.3M1325.98 857.3h12.67M1325.98 832.3h12.67M1325.98 807.3h12.67M1325.98 782.3h12.67M1325.98 757.3h12.67M908.45 114.05H989.96M908.45 114.05v-12.67M935.62 114.05v-12.67M962.79 114.05v-12.67M989.96 114.05v-12.67M114.05 995.56V914.05M114.05 995.56h-12.67M114.05 968.39h-12.67M114.05 941.22h-12.67M114.05 914.05h-12.67M1059.21 1325.98H1154.91M1059.21 1325.98v12.67M1078.35 1325.98v12.67M1097.49 1325.98v12.67M1116.63 1325.98v12.67M1135.77 1325.98v12.67M1154.91 1325.98v12.67M1325.98 1154.12V1058.42M1325.98 1154.12h12.67M1325.98 1134.98h12.67M1325.98 1115.84h12.67M1325.98 1096.7h12.67M1325.98 1077.56h12.67M1325.98 1058.42h12.67M1201.47 114.05H1317.97M1201.47 114.05v-12.67M1224.77 114.05v-12.67M1248.07 114.05v-12.67M1271.37 114.05v-12.67M1294.67 114.05v-12.67M1317.97 114.05v-12.67M114.05 1321.18V1204.68M114.05 1321.18h-12.67M114.05 1297.88h-12.67M114.05 1274.58h-12.67M114.05 1251.28h-12.67M114.05 1227.98h-12.67M114.05 1204.68h-12.67" fill="none" stroke="#000" stroke-width="2.0" stroke-linecap="round"/>
<g font-size="21.12">
<text transform="translate(125.95 1371.59) scale(1 1.03)" text-anchor="middle">-0.4</text>
<text transform="translate(195.7 1371.59) scale(1 1.03)" text-anchor="middle">0.2</text>
<text transform="translate(1371.59 231.46) rotate(-90) scale(1 1.03)" text-anchor="middle">-0.4</text>
<text transform="translate(1371.59 161.71) rotate(-90) scale(1 1.03)" text-anchor="middle">0.2</text>
<text transform="translate(289.31 83.64) scale(1 1.03)" text-anchor="middle">2200</text>
<text transform="translate(373.71 83.64) scale(1 1.03)" text-anchor="middle">2600</text>
<text transform="translate(83.64 377.42) rotate(-90) scale(1 1.03)" text-anchor="middle">2200</text>
<text transform="translate(83.64 293.02) rotate(-90) scale(1 1.03)" text-anchor="middle">2600</text>
<text transform="translate(440.17 1371.59) scale(1 1.03)" text-anchor="middle">60</text>
<text transform="translate(496.78 1371.59) scale(1 1.03)" text-anchor="middle">75</text>
<text transform="translate(1371.59 535.88) rotate(-90) scale(1 1.03)" text-anchor="middle">60</text>
<text transform="translate(1371.59 479.27) rotate(-90) scale(1 1.03)" text-anchor="middle">75</text>
<text transform="translate(590.33 83.64) scale(1 1.03)" text-anchor="middle">21.5</text>
<text transform="translate(650.33 83.64) scale(1 1.03)" text-anchor="middle">23.0</text>
<text transform="translate(83.64 695.04) rotate(-90) scale(1 1.03)" text-anchor="middle">21.5</text>
<text transform="translate(83.64 635.04) rotate(-90) scale(1 1.03)" text-anchor="middle">23.0</text>
<text transform="translate(736.89 1371.59) scale(1 1.03)" text-anchor="middle">-9.0</text>
<text transform="translate(811.89 1371.59) scale(1 1.03)" text-anchor="middle">-7.5</text>
<text transform="translate(1371.59 857.8) rotate(-90) scale(1 1.03)" text-anchor="middle">-9.0</text>
<text transform="translate(1371.59 782.8) rotate(-90) scale(1 1.03)" text-anchor="middle">-7.5</text>
<text transform="translate(907.95 83.64) scale(1 1.03)" text-anchor="middle">800</text>
<text transform="translate(989.46 83.64) scale(1 1.03)" text-anchor="middle">1400</text>
<text transform="translate(83.64 996.06) rotate(-90) scale(1 1.03)" text-anchor="middle">800</text>
<text transform="translate(83.64 914.55) rotate(-90) scale(1 1.03)" text-anchor="middle">1400</text>
<text transform="translate(1058.71 1371.59) scale(1 1.03)" text-anchor="middle">220</text>
<text transform="translate(1116.13 1371.59) scale(1 1.03)" text-anchor="middle">280</text>
<text transform="translate(1371.59 1154.62) rotate(-90) scale(1 1.03)" text-anchor="middle">220</text>
<text transform="translate(1371.59 1097.2) rotate(-90) scale(1 1.03)" text-anchor="middle">280</text>
<text transform="translate(1200.97 83.64) scale(1 1.03)" text-anchor="middle">2</text>
<text transform="translate(1247.57 83.64) scale(1 1.03)" text-anchor="middle">6</text>
<text transform="translate(1294.17 83.64) scale(1 1.03)" text-anchor="middle">10</text>
<text transform="translate(83.64 1321.68) rotate(-90) scale(1 1.03)" text-anchor="middle">2</text>
<text transform="translate(83.64 1275.08) rotate(-90) scale(1 1.03)" text-anchor="middle">6</text>
<text transform="translate(83.64 1228.48) rotate(-90) scale(1 1.03)" text-anchor="middle">10</text>
</g>
</svg>
</body>
</html>
